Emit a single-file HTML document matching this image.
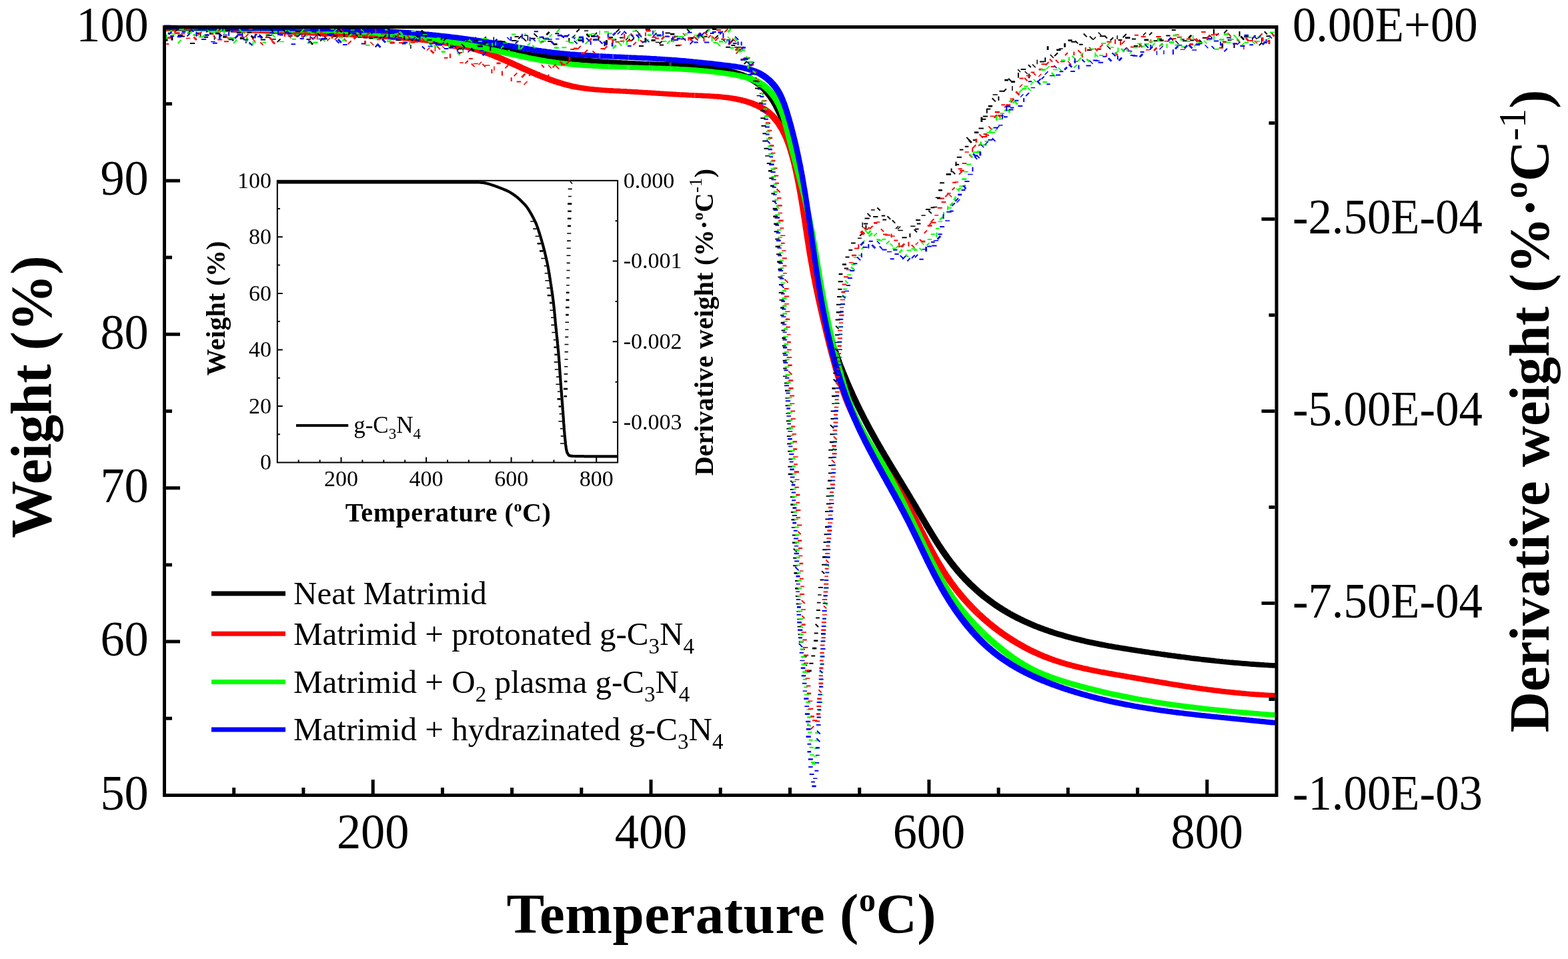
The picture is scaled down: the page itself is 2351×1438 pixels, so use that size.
<!DOCTYPE html>
<html><head><meta charset="utf-8"><style>html,body{margin:0;padding:0;background:#fff;overflow:hidden}svg{display:block}</style></head><body>
<svg width="2351" height="1438" viewBox="0 0 2351 1438">
<rect width="2351" height="1438" fill="#fff"/>
<defs><filter id="sqpen" x="0" y="0" width="2351" height="1438" filterUnits="userSpaceOnUse"><feMorphology operator="dilate" radius="2.65"/></filter></defs>
<path d="M249.0 41.8 L251.5 41.9 L254.0 41.9 L256.5 42.0 L259.0 42.0 L261.5 42.1 L264.0 42.1 L266.5 42.2 L269.0 42.2 L271.5 42.3 L274.0 42.3 L276.5 42.3 L279.0 42.4 L281.5 42.4 L284.0 42.4 L286.5 42.5 L289.0 42.5 L291.5 42.5 L294.0 42.5 L296.5 42.6 L299.0 42.6 L301.6 42.6 L304.1 42.6 L306.6 42.7 L309.1 42.7 L311.6 42.7 L314.1 42.7 L316.6 42.7 L319.1 42.7 L321.6 42.8 L324.1 42.8 L326.6 42.8 L329.1 42.8 L331.6 42.8 L334.1 42.8 L336.6 42.8 L339.1 42.8 L341.6 42.8 L344.1 42.8 L346.6 42.9 L349.1 42.9 L351.6 42.9 L354.1 42.9 L356.7 42.9 L359.2 42.9 L361.7 42.9 L364.2 42.9 L366.7 42.9 L369.2 42.9 L371.7 42.9 L374.2 42.9 L376.7 42.9 L379.2 42.9 L381.7 42.9 L384.2 43.0 L386.7 43.0 L389.2 43.0 L391.7 43.0 L394.3 43.0 L396.8 43.0 L399.3 43.0 L401.8 43.0 L404.3 43.0 L406.8 43.0 L409.3 43.1 L411.8 43.1 L414.3 43.1 L416.8 43.1 L419.3 43.1 L421.8 43.1 L424.3 43.1 L426.8 43.2 L429.3 43.2 L431.9 43.2 L434.4 43.2 L436.9 43.3 L439.4 43.3 L441.9 43.3 L444.4 43.3 L446.9 43.4 L449.4 43.4 L451.9 43.4 L454.4 43.5 L456.9 43.5 L459.4 43.5 L461.9 43.6 L464.4 43.6 L466.9 43.7 L469.5 43.7 L472.0 43.7 L474.5 43.8 L477.0 43.8 L479.5 43.9 L482.0 43.9 L484.5 44.0 L487.0 44.1 L489.5 44.1 L492.0 44.2 L494.5 44.2 L497.0 44.3 L499.5 44.4 L502.0 44.5 L504.5 44.5 L507.0 44.6 L509.5 44.7 L512.0 44.8 L514.5 44.9 L517.0 44.9 L519.5 45.0 L522.0 45.1 L524.5 45.2 L527.0 45.3 L529.6 45.4 L532.1 45.5 L534.6 45.6 L537.1 45.7 L539.6 45.9 L542.1 46.0 L544.6 46.1 L547.1 46.2 L549.6 46.4 L552.1 46.5 L554.6 46.6 L557.1 46.8 L559.6 46.9 L562.1 47.0 L564.6 47.2 L567.1 47.3 L569.6 47.5 L572.1 47.7 L574.6 47.8 L577.0 48.0 L579.5 48.2 L582.0 48.3 L584.5 48.5 L587.0 48.7 L589.5 48.9 L592.0 49.1 L594.5 49.3 L597.0 49.5 L599.5 49.7 L602.0 49.9 L604.5 50.1 L607.0 50.3 L609.5 50.5 L612.0 50.7 L614.5 51.0 L617.0 51.2 L619.5 51.4 L622.0 51.7 L624.4 51.9 L626.9 52.2 L629.4 52.4 L631.9 52.7 L634.4 53.0 L636.9 53.2 L639.4 53.5 L641.9 53.8 L644.4 54.1 L646.9 54.4 L649.3 54.7 L651.8 55.0 L654.3 55.3 L656.8 55.6 L659.3 55.9 L661.8 56.2 L664.3 56.6 L666.7 56.9 L669.2 57.3 L671.7 57.6 L674.2 58.0 L676.7 58.3 L679.1 58.7 L681.6 59.1 L684.1 59.5 L686.5 59.9 L689.0 60.3 L691.5 60.7 L694.0 61.1 L696.4 61.6 L698.9 62.0 L701.3 62.4 L703.8 62.9 L706.3 63.4 L708.7 63.8 L711.2 64.3 L713.6 64.8 L716.1 65.3 L718.5 65.9 L721.0 66.4 L723.4 66.9 L725.9 67.5 L728.3 68.0 L730.7 68.6 L733.2 69.2 L735.6 69.7 L738.0 70.3 L740.5 70.9 L742.9 71.5 L745.3 72.1 L747.8 72.7 L750.2 73.3 L752.6 73.9 L755.0 74.5 L757.5 75.1 L759.9 75.6 L762.3 76.2 L764.8 76.7 L767.2 77.3 L769.7 77.8 L772.1 78.3 L774.6 78.8 L777.0 79.2 L779.5 79.7 L782.0 80.1 L784.4 80.5 L786.9 80.9 L789.4 81.3 L791.8 81.6 L794.3 82.0 L796.8 82.3 L799.3 82.7 L801.8 83.0 L804.3 83.3 L806.7 83.6 L809.2 83.9 L811.7 84.2 L814.2 84.5 L816.7 84.7 L819.2 85.0 L821.7 85.3 L824.2 85.6 L826.7 85.8 L829.1 86.1 L831.6 86.3 L834.1 86.6 L836.6 86.8 L839.1 87.1 L841.6 87.3 L844.1 87.6 L846.6 87.8 L849.0 88.1 L851.5 88.3 L854.0 88.5 L856.5 88.7 L859.0 89.0 L861.5 89.2 L864.0 89.4 L866.5 89.6 L868.9 89.8 L871.4 90.0 L873.9 90.2 L876.4 90.4 L878.9 90.6 L881.4 90.8 L883.9 91.0 L886.4 91.2 L888.9 91.4 L891.4 91.6 L893.8 91.7 L896.3 91.9 L898.8 92.1 L901.3 92.3 L903.8 92.4 L906.3 92.6 L908.8 92.8 L911.3 92.9 L913.8 93.1 L916.3 93.2 L918.8 93.4 L921.3 93.5 L923.8 93.7 L926.3 93.8 L928.8 93.9 L931.3 94.1 L933.8 94.2 L936.3 94.3 L938.8 94.5 L941.3 94.6 L943.8 94.7 L946.3 94.8 L948.8 94.9 L951.3 95.1 L953.8 95.2 L956.3 95.3 L958.8 95.4 L961.3 95.5 L963.8 95.6 L966.3 95.7 L968.8 95.8 L971.3 95.9 L973.8 96.0 L976.3 96.1 L978.8 96.2 L981.3 96.2 L983.9 96.3 L986.4 96.4 L988.9 96.5 L991.4 96.6 L993.9 96.6 L996.4 96.7 L998.9 96.8 L1001.5 96.9 L1004.0 96.9 L1006.5 97.0 L1009.0 97.1 L1011.5 97.2 L1014.0 97.3 L1016.6 97.4 L1019.1 97.5 L1021.6 97.6 L1024.1 97.7 L1026.6 97.8 L1029.1 98.0 L1031.7 98.1 L1034.2 98.3 L1036.7 98.4 L1039.2 98.6 L1041.7 98.8 L1044.2 99.0 L1046.7 99.2 L1049.2 99.5 L1051.7 99.7 L1054.3 100.0 L1056.8 100.2 L1059.3 100.5 L1061.8 100.9 L1064.3 101.2 L1066.8 101.5 L1069.3 101.9 L1071.8 102.3 L1074.3 102.7 L1076.7 103.1 L1079.2 103.6 L1081.7 104.1 L1084.2 104.6 L1086.7 105.1 L1089.2 105.7 L1091.6 106.3 L1094.1 106.9 L1096.6 107.5 L1099.1 108.2 L1101.5 108.9 L1104.0 109.6 L1106.4 110.4 L1108.8 111.2 L1111.2 112.0 L1113.6 112.9 L1115.9 113.8 L1118.2 114.8 L1120.5 115.8 L1122.7 116.9 L1125.0 118.0 L1127.1 119.1 L1129.3 120.4 L1131.3 121.6 L1133.4 123.0 L1135.4 124.3 L1137.3 125.8 L1139.2 127.3 L1141.0 128.8 L1142.8 130.4 L1144.5 132.1 L1146.2 133.8 L1147.8 135.6 L1149.4 137.4 L1150.9 139.3 L1152.4 141.2 L1153.9 143.1 L1155.3 145.1 L1156.6 147.1 L1158.0 149.2 L1159.3 151.2 L1160.6 153.4 L1161.8 155.5 L1163.0 157.7 L1164.1 159.9 L1165.3 162.1 L1166.4 164.4 L1167.5 166.7 L1168.5 169.0 L1169.5 171.3 L1170.5 173.6 L1171.5 175.9 L1172.5 178.3 L1173.4 180.7 L1174.3 183.0 L1175.2 185.4 L1176.1 187.8 L1177.0 190.2 L1177.9 192.6 L1178.7 195.0 L1179.5 197.4 L1180.3 199.7 L1181.1 202.1 L1181.9 204.5 L1182.7 207.0 L1183.4 209.4 L1184.2 211.8 L1184.9 214.2 L1185.6 216.6 L1186.3 219.0 L1187.0 221.4 L1187.7 223.9 L1188.4 226.3 L1189.0 228.7 L1189.7 231.1 L1190.3 233.6 L1191.0 236.0 L1191.6 238.4 L1192.2 240.9 L1192.8 243.3 L1193.3 245.8 L1193.9 248.2 L1194.5 250.6 L1195.0 253.1 L1195.6 255.5 L1196.1 258.0 L1196.6 260.4 L1197.2 262.9 L1197.7 265.3 L1198.2 267.8 L1198.7 270.3 L1199.2 272.7 L1199.6 275.2 L1200.1 277.6 L1200.6 280.1 L1201.1 282.6 L1201.5 285.0 L1202.0 287.5 L1202.4 290.0 L1202.8 292.4 L1203.3 294.9 L1203.7 297.4 L1204.1 299.8 L1204.5 302.3 L1205.0 304.8 L1205.4 307.3 L1205.8 309.7 L1206.2 312.2 L1206.6 314.7 L1207.0 317.2 L1207.4 319.6 L1207.7 322.1 L1208.1 324.6 L1208.5 327.1 L1208.9 329.5 L1209.3 332.0 L1209.6 334.5 L1210.0 337.0 L1210.4 339.5 L1210.8 341.9 L1211.2 344.4 L1211.5 346.9 L1211.9 349.4 L1212.3 351.9 L1212.6 354.3 L1213.0 356.8 L1213.4 359.3 L1213.8 361.8 L1214.1 364.2 L1214.5 366.7 L1214.9 369.2 L1215.3 371.7 L1215.7 374.1 L1216.1 376.6 L1216.4 379.1 L1216.8 381.6 L1217.2 384.0 L1217.6 386.5 L1218.0 389.0 L1218.4 391.5 L1218.8 393.9 L1219.3 396.4 L1219.7 398.9 L1220.1 401.3 L1220.5 403.8 L1221.0 406.3 L1221.4 408.7 L1221.8 411.2 L1222.3 413.6 L1222.7 416.1 L1223.2 418.6 L1223.7 421.0 L1224.1 423.5 L1224.6 425.9 L1225.1 428.4 L1225.6 430.8 L1226.1 433.3 L1226.6 435.7 L1227.1 438.2 L1227.7 440.6 L1228.2 443.1 L1228.8 445.5 L1229.3 447.9 L1229.9 450.4 L1230.4 452.8 L1231.0 455.2 L1231.6 457.7 L1232.2 460.1 L1232.8 462.5 L1233.4 464.9 L1234.1 467.4 L1234.7 469.8 L1235.3 472.2 L1236.0 474.6 L1236.6 477.0 L1237.3 479.4 L1238.0 481.8 L1238.7 484.3 L1239.3 486.7 L1240.0 489.1 L1240.8 491.5 L1241.5 493.9 L1242.2 496.3 L1242.9 498.6 L1243.7 501.0 L1244.4 503.4 L1245.2 505.8 L1245.9 508.2 L1246.7 510.6 L1247.5 513.0 L1248.3 515.3 L1249.1 517.7 L1249.9 520.1 L1250.7 522.4 L1251.5 524.8 L1252.3 527.2 L1253.2 529.5 L1254.0 531.9 L1254.9 534.2 L1255.7 536.6 L1256.6 538.9 L1257.5 541.3 L1258.4 543.6 L1259.2 546.0 L1260.1 548.3 L1261.0 550.7 L1262.0 553.0 L1262.9 555.3 L1263.8 557.6 L1264.7 560.0 L1265.7 562.3 L1266.6 564.6 L1267.6 566.9 L1268.6 569.2 L1269.5 571.5 L1270.5 573.9 L1271.5 576.2 L1272.5 578.5 L1273.5 580.8 L1274.5 583.0 L1275.5 585.3 L1276.5 587.6 L1277.6 589.9 L1278.6 592.2 L1279.6 594.5 L1280.7 596.8 L1281.7 599.0 L1282.8 601.3 L1283.9 603.6 L1284.9 605.8 L1286.0 608.1 L1287.1 610.3 L1288.2 612.6 L1289.3 614.8 L1290.4 617.1 L1291.6 619.3 L1292.7 621.6 L1293.8 623.8 L1294.9 626.0 L1296.1 628.3 L1297.2 630.5 L1298.4 632.7 L1299.6 634.9 L1300.7 637.1 L1301.9 639.4 L1303.1 641.6 L1304.3 643.8 L1305.5 646.0 L1306.7 648.2 L1307.9 650.4 L1309.1 652.5 L1310.3 654.7 L1311.5 656.9 L1312.7 659.1 L1314.0 661.3 L1315.2 663.5 L1316.5 665.6 L1317.7 667.8 L1319.0 670.0 L1320.2 672.1 L1321.5 674.3 L1322.7 676.5 L1324.0 678.6 L1325.3 680.8 L1326.5 683.0 L1327.8 685.1 L1329.1 687.3 L1330.4 689.4 L1331.6 691.6 L1332.9 693.7 L1334.2 695.9 L1335.5 698.0 L1336.8 700.2 L1338.1 702.3 L1339.4 704.5 L1340.7 706.6 L1342.0 708.7 L1343.3 710.9 L1344.6 713.0 L1345.9 715.2 L1347.2 717.3 L1348.5 719.5 L1349.8 721.6 L1351.1 723.7 L1352.4 725.9 L1353.7 728.0 L1355.0 730.2 L1356.3 732.3 L1357.6 734.5 L1358.9 736.6 L1360.2 738.7 L1361.5 740.9 L1362.8 743.0 L1364.1 745.2 L1365.3 747.3 L1366.6 749.5 L1367.9 751.6 L1369.2 753.8 L1370.5 755.9 L1371.8 758.1 L1373.1 760.2 L1374.3 762.4 L1375.6 764.6 L1376.9 766.7 L1378.2 768.9 L1379.4 771.0 L1380.7 773.2 L1382.0 775.4 L1383.2 777.5 L1384.5 779.7 L1385.8 781.8 L1387.1 784.0 L1388.3 786.2 L1389.6 788.3 L1390.9 790.5 L1392.2 792.6 L1393.5 794.8 L1394.8 796.9 L1396.1 799.0 L1397.4 801.2 L1398.7 803.3 L1400.0 805.4 L1401.3 807.6 L1402.6 809.7 L1404.0 811.8 L1405.3 813.9 L1406.7 816.0 L1408.0 818.1 L1409.4 820.2 L1410.8 822.2 L1412.2 824.3 L1413.6 826.4 L1415.0 828.4 L1416.4 830.5 L1417.9 832.5 L1419.3 834.5 L1420.8 836.6 L1422.3 838.6 L1423.8 840.6 L1425.3 842.6 L1426.8 844.6 L1428.3 846.5 L1429.9 848.5 L1431.4 850.4 L1433.0 852.4 L1434.6 854.3 L1436.2 856.2 L1437.9 858.1 L1439.5 860.0 L1441.2 861.9 L1442.9 863.7 L1444.6 865.6 L1446.3 867.4 L1448.0 869.2 L1449.8 871.0 L1451.5 872.8 L1453.3 874.6 L1455.1 876.4 L1456.9 878.1 L1458.8 879.8 L1460.6 881.6 L1462.5 883.3 L1464.4 884.9 L1466.2 886.6 L1468.1 888.3 L1470.1 889.9 L1472.0 891.5 L1473.9 893.1 L1475.9 894.7 L1477.9 896.3 L1479.9 897.8 L1481.9 899.3 L1483.9 900.8 L1485.9 902.3 L1487.9 903.8 L1490.0 905.3 L1492.0 906.7 L1494.1 908.1 L1496.2 909.5 L1498.3 910.9 L1500.4 912.2 L1502.5 913.6 L1504.6 914.9 L1506.8 916.2 L1508.9 917.5 L1511.1 918.7 L1513.2 920.0 L1515.4 921.2 L1517.6 922.4 L1519.8 923.6 L1522.0 924.7 L1524.2 925.9 L1526.4 927.0 L1528.7 928.1 L1530.9 929.2 L1533.2 930.3 L1535.4 931.4 L1537.7 932.4 L1539.9 933.4 L1542.2 934.4 L1544.5 935.4 L1546.8 936.4 L1549.1 937.4 L1551.4 938.3 L1553.7 939.3 L1556.1 940.2 L1558.4 941.1 L1560.7 942.0 L1563.1 942.8 L1565.4 943.7 L1567.8 944.5 L1570.1 945.4 L1572.5 946.2 L1574.9 947.0 L1577.2 947.8 L1579.6 948.6 L1582.0 949.3 L1584.4 950.1 L1586.8 950.8 L1589.2 951.5 L1591.6 952.2 L1594.0 952.9 L1596.4 953.6 L1598.8 954.3 L1601.2 955.0 L1603.6 955.6 L1606.0 956.3 L1608.5 956.9 L1610.9 957.5 L1613.3 958.1 L1615.8 958.7 L1618.2 959.3 L1620.6 959.9 L1623.1 960.5 L1625.5 961.1 L1627.9 961.6 L1630.4 962.2 L1632.8 962.7 L1635.3 963.2 L1637.7 963.7 L1640.2 964.3 L1642.7 964.8 L1645.1 965.3 L1647.6 965.7 L1650.0 966.2 L1652.5 966.7 L1655.0 967.2 L1657.4 967.6 L1659.9 968.1 L1662.4 968.5 L1664.8 969.0 L1667.3 969.4 L1669.8 969.9 L1672.3 970.3 L1674.7 970.7 L1677.2 971.1 L1679.7 971.5 L1682.2 971.9 L1684.6 972.3 L1687.1 972.7 L1689.6 973.1 L1692.1 973.5 L1694.5 973.9 L1697.0 974.3 L1699.5 974.7 L1702.0 975.1 L1704.5 975.5 L1706.9 975.8 L1709.4 976.2 L1711.9 976.6 L1714.4 977.0 L1716.9 977.3 L1719.3 977.7 L1721.8 978.1 L1724.3 978.4 L1726.8 978.8 L1729.3 979.2 L1731.7 979.5 L1734.2 979.9 L1736.7 980.2 L1739.2 980.6 L1741.7 980.9 L1744.1 981.3 L1746.6 981.6 L1749.1 982.0 L1751.6 982.3 L1754.0 982.7 L1756.5 983.0 L1759.0 983.3 L1761.5 983.7 L1764.0 984.0 L1766.4 984.3 L1768.9 984.7 L1771.4 985.0 L1773.9 985.3 L1776.4 985.6 L1778.8 985.9 L1781.3 986.2 L1783.8 986.6 L1786.3 986.9 L1788.8 987.2 L1791.2 987.5 L1793.7 987.8 L1796.2 988.1 L1798.7 988.4 L1801.2 988.6 L1803.7 988.9 L1806.1 989.2 L1808.6 989.5 L1811.1 989.8 L1813.6 990.1 L1816.1 990.3 L1818.6 990.6 L1821.1 990.9 L1823.5 991.1 L1826.0 991.4 L1828.5 991.6 L1831.0 991.9 L1833.5 992.1 L1836.0 992.4 L1838.5 992.6 L1841.0 992.9 L1843.5 993.1 L1846.0 993.3 L1848.4 993.6 L1850.9 993.8 L1853.4 994.0 L1855.9 994.2 L1858.4 994.4 L1860.9 994.6 L1863.4 994.8 L1865.9 995.0 L1868.4 995.2 L1870.9 995.4 L1873.4 995.6 L1875.9 995.8 L1878.4 996.0 L1880.9 996.2 L1883.4 996.3 L1885.9 996.5 L1888.4 996.7 L1890.9 996.8 L1893.4 997.0 L1896.0 997.1 L1898.5 997.3 L1901.0 997.4 L1903.5 997.6 L1906.0 997.7 L1908.5 997.8 L1911.0 998.0" stroke="#000000" stroke-width="1.4" fill="none" stroke-linejoin="round" filter="url(#sqpen)"/>
<path d="M249.0 43.2 L251.5 43.2 L254.0 43.2 L256.5 43.2 L259.0 43.1 L261.5 43.1 L264.0 43.1 L266.5 43.1 L269.0 43.1 L271.5 43.1 L274.0 43.1 L276.5 43.1 L279.0 43.1 L281.5 43.2 L284.0 43.2 L286.6 43.2 L289.1 43.2 L291.6 43.2 L294.1 43.3 L296.6 43.3 L299.1 43.3 L301.6 43.4 L304.1 43.4 L306.6 43.5 L309.1 43.5 L311.6 43.6 L314.1 43.6 L316.6 43.7 L319.1 43.7 L321.6 43.8 L324.1 43.8 L326.6 43.9 L329.1 44.0 L331.6 44.0 L334.1 44.1 L336.6 44.2 L339.1 44.2 L341.6 44.3 L344.1 44.4 L346.6 44.5 L349.1 44.6 L351.6 44.6 L354.1 44.7 L356.6 44.8 L359.1 44.9 L361.6 45.0 L364.1 45.1 L366.6 45.2 L369.1 45.3 L371.6 45.4 L374.1 45.5 L376.6 45.6 L379.1 45.7 L381.6 45.8 L384.1 45.9 L386.6 46.0 L389.1 46.1 L391.6 46.2 L394.1 46.3 L396.6 46.4 L399.1 46.5 L401.6 46.6 L404.1 46.7 L406.6 46.8 L409.1 46.9 L411.6 47.1 L414.1 47.2 L416.6 47.3 L419.1 47.4 L421.6 47.5 L424.1 47.6 L426.6 47.7 L429.1 47.9 L431.6 48.0 L434.1 48.1 L436.6 48.2 L439.1 48.3 L441.6 48.4 L444.1 48.6 L446.6 48.7 L449.1 48.8 L451.6 48.9 L454.1 49.0 L456.6 49.1 L459.1 49.3 L461.6 49.4 L464.1 49.5 L466.6 49.6 L469.1 49.7 L471.6 49.8 L474.1 49.9 L476.6 50.1 L479.1 50.2 L481.6 50.3 L484.1 50.4 L486.6 50.5 L489.1 50.6 L491.6 50.7 L494.1 50.8 L496.6 50.9 L499.1 51.1 L501.6 51.2 L504.1 51.3 L506.6 51.4 L509.1 51.5 L511.6 51.6 L514.1 51.7 L516.6 51.8 L519.1 52.0 L521.6 52.1 L524.1 52.2 L526.6 52.3 L529.1 52.4 L531.6 52.5 L534.1 52.7 L536.6 52.8 L539.1 52.9 L541.6 53.0 L544.1 53.2 L546.6 53.3 L549.1 53.4 L551.6 53.6 L554.1 53.7 L556.6 53.9 L559.1 54.0 L561.6 54.1 L564.1 54.3 L566.6 54.5 L569.1 54.6 L571.6 54.8 L574.1 54.9 L576.6 55.1 L579.1 55.3 L581.6 55.4 L584.1 55.6 L586.6 55.8 L589.1 56.0 L591.6 56.2 L594.1 56.3 L596.6 56.5 L599.1 56.7 L601.6 56.9 L604.1 57.2 L606.6 57.4 L609.1 57.6 L611.6 57.8 L614.0 58.0 L616.5 58.3 L619.0 58.5 L621.5 58.8 L624.0 59.0 L626.5 59.3 L629.0 59.5 L631.5 59.8 L634.0 60.1 L636.5 60.3 L639.0 60.6 L641.5 60.9 L644.0 61.2 L646.4 61.5 L648.9 61.8 L651.4 62.1 L653.9 62.5 L656.4 62.8 L658.9 63.1 L661.4 63.5 L663.9 63.9 L666.3 64.2 L668.8 64.6 L671.3 65.0 L673.8 65.4 L676.2 65.8 L678.7 66.3 L681.1 66.7 L683.6 67.2 L686.1 67.7 L688.5 68.2 L691.0 68.7 L693.4 69.2 L695.8 69.7 L698.3 70.3 L700.7 70.9 L703.1 71.4 L705.5 72.1 L708.0 72.7 L710.4 73.3 L712.8 74.0 L715.2 74.7 L717.6 75.4 L719.9 76.1 L722.3 76.9 L724.7 77.6 L727.0 78.4 L729.4 79.2 L731.8 80.1 L734.1 80.9 L736.4 81.8 L738.8 82.7 L741.1 83.6 L743.4 84.5 L745.7 85.5 L748.0 86.4 L750.3 87.4 L752.6 88.4 L754.9 89.4 L757.2 90.4 L759.5 91.4 L761.8 92.4 L764.1 93.5 L766.4 94.5 L768.7 95.5 L771.0 96.6 L773.3 97.6 L775.6 98.7 L777.8 99.7 L780.1 100.7 L782.4 101.8 L784.7 102.8 L787.0 103.8 L789.3 104.9 L791.6 105.9 L793.9 106.9 L796.2 107.9 L798.5 108.9 L800.8 109.9 L803.1 110.9 L805.5 111.8 L807.8 112.8 L810.1 113.8 L812.4 114.7 L814.8 115.6 L817.1 116.5 L819.4 117.4 L821.8 118.3 L824.1 119.2 L826.5 120.0 L828.8 120.9 L831.2 121.7 L833.5 122.5 L835.9 123.2 L838.3 124.0 L840.7 124.7 L843.1 125.4 L845.5 126.1 L847.9 126.8 L850.3 127.4 L852.7 128.0 L855.1 128.6 L857.5 129.2 L860.0 129.7 L862.4 130.2 L864.9 130.7 L867.3 131.1 L869.8 131.5 L872.3 131.9 L874.7 132.3 L877.2 132.6 L879.7 133.0 L882.2 133.3 L884.7 133.5 L887.2 133.8 L889.7 134.1 L892.2 134.3 L894.7 134.5 L897.2 134.7 L899.8 134.9 L902.3 135.1 L904.8 135.2 L907.3 135.4 L909.8 135.6 L912.3 135.7 L914.9 135.8 L917.4 136.0 L919.9 136.1 L922.4 136.2 L924.9 136.3 L927.4 136.5 L929.9 136.6 L932.4 136.7 L934.9 136.8 L937.4 137.0 L939.9 137.1 L942.4 137.2 L944.9 137.4 L947.4 137.5 L949.9 137.7 L952.3 137.8 L954.8 138.0 L957.3 138.1 L959.8 138.3 L962.2 138.4 L964.7 138.6 L967.2 138.7 L969.6 138.9 L972.1 139.0 L974.5 139.2 L977.0 139.3 L979.5 139.5 L981.9 139.7 L984.4 139.8 L986.9 140.0 L989.3 140.1 L991.8 140.3 L994.3 140.4 L996.7 140.6 L999.2 140.7 L1001.7 140.9 L1004.2 141.0 L1006.6 141.2 L1009.1 141.3 L1011.6 141.5 L1014.1 141.6 L1016.6 141.8 L1019.1 141.9 L1021.6 142.0 L1024.1 142.2 L1026.6 142.3 L1029.1 142.4 L1031.6 142.6 L1034.1 142.7 L1036.6 142.8 L1039.2 142.9 L1041.7 143.0 L1044.2 143.1 L1046.8 143.2 L1049.3 143.3 L1051.9 143.4 L1054.4 143.6 L1057.0 143.7 L1059.5 143.8 L1062.1 143.9 L1064.7 144.1 L1067.2 144.2 L1069.8 144.4 L1072.3 144.5 L1074.9 144.7 L1077.4 144.9 L1080.0 145.2 L1082.5 145.4 L1085.0 145.7 L1087.6 146.0 L1090.1 146.3 L1092.6 146.6 L1095.1 147.0 L1097.6 147.4 L1100.1 147.8 L1102.6 148.2 L1105.1 148.7 L1107.6 149.2 L1110.0 149.8 L1112.5 150.4 L1114.9 151.0 L1117.3 151.7 L1119.8 152.4 L1122.2 153.1 L1124.5 153.9 L1126.9 154.7 L1129.2 155.6 L1131.6 156.6 L1133.8 157.5 L1136.1 158.6 L1138.3 159.7 L1140.5 160.8 L1142.6 162.0 L1144.7 163.2 L1146.7 164.5 L1148.7 165.9 L1150.6 167.3 L1152.5 168.8 L1154.3 170.3 L1156.1 171.9 L1157.8 173.6 L1159.4 175.3 L1161.0 177.0 L1162.5 178.9 L1164.0 180.7 L1165.5 182.6 L1166.9 184.5 L1168.2 186.5 L1169.5 188.6 L1170.8 190.6 L1172.0 192.7 L1173.2 194.9 L1174.3 197.1 L1175.4 199.3 L1176.4 201.5 L1177.5 203.8 L1178.5 206.1 L1179.4 208.4 L1180.3 210.8 L1181.2 213.1 L1182.1 215.5 L1182.9 217.9 L1183.7 220.4 L1184.5 222.8 L1185.3 225.3 L1186.0 227.7 L1186.7 230.2 L1187.4 232.7 L1188.1 235.2 L1188.7 237.7 L1189.3 240.2 L1190.0 242.8 L1190.6 245.3 L1191.2 247.8 L1191.7 250.3 L1192.3 252.8 L1192.9 255.3 L1193.4 257.8 L1193.9 260.3 L1194.5 262.8 L1195.0 265.3 L1195.5 267.8 L1196.0 270.3 L1196.5 272.8 L1197.0 275.3 L1197.4 277.8 L1197.9 280.2 L1198.4 282.7 L1198.8 285.2 L1199.3 287.7 L1199.7 290.1 L1200.1 292.6 L1200.5 295.1 L1201.0 297.6 L1201.4 300.0 L1201.8 302.5 L1202.2 305.0 L1202.6 307.4 L1203.0 309.9 L1203.4 312.3 L1203.8 314.8 L1204.1 317.3 L1204.5 319.7 L1204.9 322.2 L1205.3 324.6 L1205.7 327.1 L1206.0 329.5 L1206.4 332.0 L1206.8 334.4 L1207.1 336.9 L1207.5 339.3 L1207.9 341.8 L1208.3 344.2 L1208.6 346.7 L1209.0 349.1 L1209.4 351.6 L1209.7 354.0 L1210.1 356.5 L1210.5 358.9 L1210.9 361.4 L1211.3 363.8 L1211.6 366.3 L1212.0 368.7 L1212.4 371.2 L1212.8 373.6 L1213.2 376.1 L1213.6 378.5 L1214.0 380.9 L1214.5 383.4 L1214.9 385.8 L1215.3 388.3 L1215.7 390.7 L1216.2 393.2 L1216.6 395.6 L1217.1 398.1 L1217.5 400.5 L1218.0 403.0 L1218.4 405.4 L1218.9 407.9 L1219.3 410.3 L1219.8 412.8 L1220.3 415.2 L1220.8 417.7 L1221.2 420.1 L1221.7 422.6 L1222.2 425.0 L1222.7 427.5 L1223.2 429.9 L1223.7 432.4 L1224.2 434.8 L1224.8 437.3 L1225.3 439.7 L1225.8 442.2 L1226.3 444.6 L1226.8 447.1 L1227.4 449.5 L1227.9 452.0 L1228.4 454.4 L1229.0 456.9 L1229.5 459.3 L1230.1 461.8 L1230.6 464.2 L1231.2 466.7 L1231.8 469.1 L1232.3 471.6 L1232.9 474.0 L1233.5 476.4 L1234.0 478.9 L1234.6 481.3 L1235.2 483.8 L1235.8 486.2 L1236.4 488.7 L1237.0 491.1 L1237.6 493.6 L1238.2 496.0 L1238.8 498.4 L1239.4 500.9 L1240.0 503.3 L1240.6 505.8 L1241.2 508.2 L1241.8 510.7 L1242.4 513.1 L1243.1 515.5 L1243.7 518.0 L1244.3 520.4 L1244.9 522.8 L1245.6 525.3 L1246.2 527.7 L1246.9 530.2 L1247.5 532.6 L1248.2 535.0 L1248.8 537.4 L1249.5 539.9 L1250.2 542.3 L1250.8 544.7 L1251.5 547.1 L1252.2 549.5 L1252.9 552.0 L1253.6 554.4 L1254.3 556.8 L1255.0 559.2 L1255.8 561.6 L1256.5 564.0 L1257.3 566.4 L1258.0 568.7 L1258.8 571.1 L1259.6 573.5 L1260.4 575.9 L1261.2 578.2 L1262.0 580.6 L1262.8 583.0 L1263.6 585.3 L1264.5 587.7 L1265.3 590.0 L1266.2 592.3 L1267.1 594.7 L1268.0 597.0 L1268.9 599.3 L1269.8 601.6 L1270.8 603.9 L1271.7 606.2 L1272.7 608.5 L1273.7 610.8 L1274.7 613.0 L1275.7 615.3 L1276.8 617.5 L1277.8 619.8 L1278.9 622.0 L1280.0 624.3 L1281.1 626.5 L1282.2 628.7 L1283.3 630.9 L1284.5 633.1 L1285.6 635.3 L1286.8 637.5 L1288.0 639.7 L1289.2 641.8 L1290.4 644.0 L1291.6 646.2 L1292.9 648.3 L1294.1 650.5 L1295.4 652.6 L1296.6 654.8 L1297.9 656.9 L1299.2 659.0 L1300.5 661.2 L1301.8 663.3 L1303.1 665.4 L1304.4 667.5 L1305.7 669.6 L1307.1 671.7 L1308.4 673.9 L1309.7 676.0 L1311.1 678.1 L1312.4 680.2 L1313.8 682.3 L1315.2 684.4 L1316.5 686.5 L1317.9 688.6 L1319.3 690.7 L1320.6 692.8 L1322.0 694.9 L1323.4 697.0 L1324.8 699.1 L1326.2 701.2 L1327.5 703.3 L1328.9 705.3 L1330.3 707.4 L1331.7 709.6 L1333.0 711.7 L1334.4 713.8 L1335.8 715.9 L1337.1 718.0 L1338.5 720.1 L1339.8 722.2 L1341.2 724.3 L1342.5 726.4 L1343.9 728.6 L1345.2 730.7 L1346.6 732.8 L1347.9 735.0 L1349.2 737.1 L1350.5 739.2 L1351.8 741.4 L1353.1 743.6 L1354.4 745.7 L1355.7 747.9 L1356.9 750.1 L1358.2 752.2 L1359.4 754.4 L1360.7 756.6 L1361.9 758.8 L1363.1 761.0 L1364.3 763.2 L1365.5 765.4 L1366.7 767.6 L1367.9 769.8 L1369.1 772.1 L1370.2 774.3 L1371.4 776.5 L1372.6 778.8 L1373.7 781.0 L1374.9 783.2 L1376.0 785.5 L1377.2 787.7 L1378.3 789.9 L1379.5 792.2 L1380.6 794.4 L1381.8 796.7 L1382.9 798.9 L1384.1 801.1 L1385.2 803.4 L1386.3 805.6 L1387.5 807.8 L1388.6 810.1 L1389.8 812.3 L1391.0 814.5 L1392.1 816.8 L1393.3 819.0 L1394.5 821.2 L1395.6 823.4 L1396.8 825.6 L1398.0 827.8 L1399.2 830.0 L1400.4 832.2 L1401.6 834.4 L1402.8 836.6 L1404.1 838.8 L1405.3 841.0 L1406.5 843.1 L1407.8 845.3 L1409.1 847.4 L1410.4 849.6 L1411.7 851.7 L1413.0 853.9 L1414.3 856.0 L1415.6 858.1 L1417.0 860.2 L1418.3 862.3 L1419.7 864.4 L1421.1 866.4 L1422.5 868.5 L1423.9 870.5 L1425.4 872.6 L1426.8 874.6 L1428.3 876.6 L1429.8 878.6 L1431.3 880.6 L1432.8 882.6 L1434.3 884.6 L1435.9 886.5 L1437.5 888.5 L1439.0 890.4 L1440.6 892.3 L1442.2 894.3 L1443.9 896.2 L1445.5 898.0 L1447.1 899.9 L1448.8 901.8 L1450.5 903.6 L1452.2 905.5 L1453.9 907.3 L1455.6 909.1 L1457.4 910.9 L1459.1 912.7 L1460.9 914.5 L1462.6 916.2 L1464.4 918.0 L1466.2 919.7 L1468.0 921.4 L1469.9 923.1 L1471.7 924.8 L1473.6 926.5 L1475.4 928.2 L1477.3 929.8 L1479.2 931.4 L1481.1 933.0 L1483.0 934.7 L1485.0 936.2 L1486.9 937.8 L1488.8 939.4 L1490.8 940.9 L1492.8 942.4 L1494.8 944.0 L1496.8 945.5 L1498.8 946.9 L1500.8 948.4 L1502.8 949.9 L1504.9 951.3 L1506.9 952.7 L1509.0 954.1 L1511.1 955.5 L1513.2 956.9 L1515.3 958.2 L1517.4 959.6 L1519.5 960.9 L1521.6 962.2 L1523.7 963.5 L1525.9 964.7 L1528.1 966.0 L1530.2 967.2 L1532.4 968.4 L1534.6 969.6 L1536.8 970.8 L1539.0 972.0 L1541.2 973.1 L1543.4 974.3 L1545.7 975.4 L1547.9 976.5 L1550.1 977.5 L1552.4 978.6 L1554.7 979.6 L1556.9 980.6 L1559.2 981.6 L1561.5 982.6 L1563.8 983.6 L1566.1 984.5 L1568.5 985.5 L1570.8 986.4 L1573.1 987.2 L1575.4 988.1 L1577.8 988.9 L1580.2 989.8 L1582.5 990.6 L1584.9 991.4 L1587.3 992.1 L1589.6 992.9 L1592.0 993.6 L1594.4 994.4 L1596.8 995.1 L1599.2 995.8 L1601.6 996.4 L1604.0 997.1 L1606.5 997.8 L1608.9 998.4 L1611.3 999.0 L1613.8 999.6 L1616.2 1000.2 L1618.6 1000.8 L1621.1 1001.4 L1623.5 1001.9 L1626.0 1002.5 L1628.5 1003.0 L1630.9 1003.6 L1633.4 1004.1 L1635.8 1004.6 L1638.3 1005.1 L1640.8 1005.6 L1643.3 1006.1 L1645.7 1006.6 L1648.2 1007.1 L1650.7 1007.5 L1653.2 1008.0 L1655.6 1008.5 L1658.1 1008.9 L1660.6 1009.4 L1663.1 1009.8 L1665.6 1010.2 L1668.1 1010.7 L1670.5 1011.1 L1673.0 1011.6 L1675.5 1012.0 L1678.0 1012.4 L1680.5 1012.8 L1683.0 1013.3 L1685.4 1013.7 L1687.9 1014.1 L1690.4 1014.6 L1692.9 1015.0 L1695.3 1015.4 L1697.8 1015.8 L1700.3 1016.3 L1702.8 1016.7 L1705.2 1017.1 L1707.7 1017.6 L1710.2 1018.0 L1712.6 1018.4 L1715.1 1018.8 L1717.6 1019.3 L1720.0 1019.7 L1722.5 1020.1 L1725.0 1020.5 L1727.4 1020.9 L1729.9 1021.4 L1732.4 1021.8 L1734.8 1022.2 L1737.3 1022.6 L1739.7 1023.0 L1742.2 1023.4 L1744.7 1023.8 L1747.1 1024.2 L1749.6 1024.7 L1752.0 1025.1 L1754.5 1025.5 L1757.0 1025.9 L1759.4 1026.2 L1761.9 1026.6 L1764.3 1027.0 L1766.8 1027.4 L1769.3 1027.8 L1771.7 1028.2 L1774.2 1028.6 L1776.6 1029.0 L1779.1 1029.3 L1781.5 1029.7 L1784.0 1030.1 L1786.5 1030.4 L1788.9 1030.8 L1791.4 1031.2 L1793.9 1031.5 L1796.3 1031.9 L1798.8 1032.2 L1801.3 1032.6 L1803.7 1032.9 L1806.2 1033.2 L1808.7 1033.6 L1811.1 1033.9 L1813.6 1034.2 L1816.1 1034.5 L1818.5 1034.9 L1821.0 1035.2 L1823.5 1035.5 L1825.9 1035.8 L1828.4 1036.1 L1830.9 1036.4 L1833.4 1036.7 L1835.9 1037.0 L1838.3 1037.2 L1840.8 1037.5 L1843.3 1037.8 L1845.8 1038.0 L1848.3 1038.3 L1850.8 1038.6 L1853.3 1038.8 L1855.7 1039.0 L1858.2 1039.3 L1860.7 1039.5 L1863.2 1039.7 L1865.7 1040.0 L1868.2 1040.2 L1870.7 1040.4 L1873.2 1040.6 L1875.7 1040.8 L1878.3 1041.0 L1880.8 1041.2 L1883.3 1041.3 L1885.8 1041.5 L1888.3 1041.7 L1890.8 1041.8 L1893.4 1042.0 L1895.9 1042.1 L1898.4 1042.3 L1900.9 1042.4 L1903.5 1042.5 L1906.0 1042.6 L1908.5 1042.7 L1911.1 1042.8" stroke="#ff0000" stroke-width="1.4" fill="none" stroke-linejoin="round" filter="url(#sqpen)"/>
<path d="M249.1 41.6 L251.6 41.7 L254.1 41.8 L256.5 41.9 L259.0 42.0 L261.5 42.1 L264.0 42.2 L266.5 42.2 L269.0 42.3 L271.5 42.4 L274.0 42.5 L276.5 42.5 L279.0 42.6 L281.5 42.7 L284.0 42.7 L286.5 42.8 L289.0 42.8 L291.5 42.9 L294.0 43.0 L296.5 43.0 L299.0 43.1 L301.5 43.1 L304.0 43.2 L306.5 43.2 L309.0 43.3 L311.5 43.3 L314.0 43.3 L316.5 43.4 L319.0 43.4 L321.5 43.5 L324.0 43.5 L326.5 43.5 L329.0 43.6 L331.5 43.6 L334.0 43.6 L336.5 43.7 L339.0 43.7 L341.5 43.7 L344.0 43.8 L346.5 43.8 L349.0 43.8 L351.5 43.8 L354.0 43.9 L356.6 43.9 L359.1 43.9 L361.6 44.0 L364.1 44.0 L366.6 44.0 L369.1 44.0 L371.6 44.1 L374.1 44.1 L376.6 44.1 L379.1 44.1 L381.6 44.2 L384.1 44.2 L386.6 44.2 L389.1 44.2 L391.7 44.3 L394.2 44.3 L396.7 44.3 L399.2 44.3 L401.7 44.4 L404.2 44.4 L406.7 44.4 L409.2 44.4 L411.7 44.5 L414.2 44.5 L416.7 44.5 L419.2 44.6 L421.8 44.6 L424.3 44.6 L426.8 44.7 L429.3 44.7 L431.8 44.7 L434.3 44.8 L436.8 44.8 L439.3 44.9 L441.8 44.9 L444.3 44.9 L446.8 45.0 L449.3 45.0 L451.9 45.1 L454.4 45.1 L456.9 45.2 L459.4 45.2 L461.9 45.3 L464.4 45.4 L466.9 45.4 L469.4 45.5 L471.9 45.5 L474.4 45.6 L476.9 45.7 L479.4 45.7 L481.9 45.8 L484.4 45.9 L487.0 46.0 L489.5 46.0 L492.0 46.1 L494.5 46.2 L497.0 46.3 L499.5 46.4 L502.0 46.5 L504.5 46.6 L507.0 46.7 L509.5 46.8 L512.0 46.9 L514.5 47.0 L517.0 47.1 L519.5 47.2 L522.0 47.3 L524.5 47.4 L527.0 47.5 L529.5 47.7 L532.0 47.8 L534.5 47.9 L537.0 48.1 L539.5 48.2 L542.0 48.3 L544.5 48.5 L547.0 48.6 L549.5 48.8 L552.0 48.9 L554.5 49.1 L557.0 49.3 L559.5 49.4 L562.0 49.6 L564.5 49.8 L567.0 50.0 L569.5 50.1 L572.0 50.3 L574.5 50.5 L577.0 50.7 L579.5 50.9 L582.0 51.1 L584.4 51.3 L586.9 51.6 L589.4 51.8 L591.9 52.0 L594.4 52.2 L596.9 52.5 L599.4 52.7 L601.9 52.9 L604.4 53.2 L606.9 53.4 L609.3 53.7 L611.8 54.0 L614.3 54.2 L616.8 54.5 L619.3 54.8 L621.8 55.1 L624.3 55.4 L626.7 55.7 L629.2 56.0 L631.7 56.3 L634.2 56.6 L636.7 56.9 L639.1 57.2 L641.6 57.5 L644.1 57.9 L646.6 58.2 L649.0 58.6 L651.5 58.9 L654.0 59.3 L656.5 59.6 L658.9 60.0 L661.4 60.4 L663.9 60.7 L666.4 61.1 L668.8 61.5 L671.3 61.9 L673.8 62.3 L676.2 62.7 L678.7 63.1 L681.2 63.6 L683.6 64.0 L686.1 64.4 L688.6 64.8 L691.0 65.3 L693.5 65.7 L696.0 66.2 L698.4 66.6 L700.9 67.1 L703.3 67.6 L705.8 68.0 L708.2 68.5 L710.7 69.0 L713.2 69.5 L715.6 70.0 L718.1 70.5 L720.5 71.0 L723.0 71.5 L725.4 72.0 L727.9 72.5 L730.3 73.1 L732.7 73.6 L735.2 74.1 L737.6 74.7 L740.1 75.2 L742.5 75.8 L745.0 76.3 L747.4 76.9 L749.8 77.4 L752.3 78.0 L754.7 78.5 L757.2 79.1 L759.6 79.6 L762.0 80.2 L764.5 80.7 L766.9 81.3 L769.4 81.8 L771.8 82.4 L774.2 82.9 L776.7 83.4 L779.1 84.0 L781.6 84.5 L784.0 85.0 L786.5 85.5 L788.9 86.1 L791.4 86.6 L793.8 87.1 L796.2 87.6 L798.7 88.0 L801.2 88.5 L803.6 89.0 L806.1 89.4 L808.5 89.9 L811.0 90.3 L813.4 90.7 L815.9 91.2 L818.4 91.6 L820.8 91.9 L823.3 92.3 L825.8 92.7 L828.2 93.0 L830.7 93.4 L833.2 93.7 L835.7 94.1 L838.2 94.4 L840.6 94.7 L843.1 95.0 L845.6 95.2 L848.1 95.5 L850.6 95.8 L853.1 96.0 L855.6 96.3 L858.1 96.5 L860.6 96.8 L863.1 97.0 L865.5 97.2 L868.0 97.4 L870.5 97.6 L873.0 97.8 L875.5 98.0 L878.0 98.2 L880.6 98.3 L883.1 98.5 L885.6 98.6 L888.1 98.8 L890.6 98.9 L893.1 99.1 L895.6 99.2 L898.1 99.3 L900.6 99.5 L903.1 99.6 L905.6 99.7 L908.1 99.8 L910.6 99.9 L913.1 100.0 L915.7 100.1 L918.2 100.2 L920.7 100.3 L923.2 100.4 L925.7 100.5 L928.2 100.6 L930.7 100.6 L933.2 100.7 L935.7 100.8 L938.3 100.9 L940.8 100.9 L943.3 101.0 L945.8 101.1 L948.3 101.2 L950.8 101.2 L953.3 101.3 L955.8 101.4 L958.3 101.4 L960.8 101.5 L963.3 101.6 L965.8 101.6 L968.3 101.7 L970.8 101.8 L973.3 101.8 L975.8 101.9 L978.3 102.0 L980.8 102.1 L983.3 102.2 L985.8 102.2 L988.3 102.3 L990.8 102.4 L993.3 102.5 L995.8 102.6 L998.3 102.7 L1000.8 102.8 L1003.3 102.9 L1005.8 103.0 L1008.2 103.1 L1010.7 103.2 L1013.2 103.3 L1015.7 103.5 L1018.2 103.6 L1020.7 103.7 L1023.2 103.9 L1025.7 104.0 L1028.1 104.2 L1030.6 104.3 L1033.1 104.5 L1035.6 104.7 L1038.1 104.8 L1040.6 105.0 L1043.1 105.2 L1045.6 105.4 L1048.1 105.6 L1050.6 105.8 L1053.1 106.1 L1055.6 106.3 L1058.1 106.5 L1060.6 106.8 L1063.1 107.0 L1065.6 107.3 L1068.1 107.6 L1070.6 107.9 L1073.1 108.1 L1075.6 108.5 L1078.1 108.8 L1080.7 109.1 L1083.2 109.4 L1085.7 109.8 L1088.2 110.1 L1090.8 110.5 L1093.3 110.9 L1095.8 111.3 L1098.4 111.7 L1100.9 112.1 L1103.4 112.6 L1106.0 113.0 L1108.5 113.5 L1111.0 114.1 L1113.4 114.7 L1115.9 115.3 L1118.3 115.9 L1120.7 116.6 L1123.1 117.4 L1125.5 118.2 L1127.8 119.0 L1130.1 120.0 L1132.3 121.0 L1134.5 122.0 L1136.6 123.1 L1138.7 124.3 L1140.8 125.6 L1142.8 126.9 L1144.8 128.3 L1146.7 129.8 L1148.5 131.3 L1150.3 132.9 L1152.1 134.6 L1153.8 136.3 L1155.4 138.0 L1157.0 139.8 L1158.5 141.7 L1159.9 143.6 L1161.3 145.6 L1162.7 147.7 L1163.9 149.7 L1165.1 151.8 L1166.3 154.0 L1167.4 156.2 L1168.4 158.4 L1169.4 160.7 L1170.4 163.0 L1171.3 165.3 L1172.1 167.7 L1173.0 170.1 L1173.8 172.5 L1174.5 174.9 L1175.3 177.4 L1176.0 179.8 L1176.7 182.3 L1177.4 184.8 L1178.1 187.3 L1178.7 189.8 L1179.4 192.3 L1180.0 194.8 L1180.6 197.3 L1181.3 199.8 L1181.9 202.3 L1182.5 204.8 L1183.2 207.3 L1183.8 209.8 L1184.5 212.3 L1185.1 214.7 L1185.8 217.2 L1186.4 219.7 L1187.0 222.1 L1187.7 224.6 L1188.3 227.0 L1189.0 229.5 L1189.6 231.9 L1190.3 234.4 L1190.9 236.8 L1191.6 239.2 L1192.2 241.7 L1192.8 244.1 L1193.5 246.5 L1194.1 249.0 L1194.8 251.4 L1195.4 253.8 L1196.0 256.2 L1196.7 258.6 L1197.3 261.0 L1197.9 263.5 L1198.6 265.9 L1199.2 268.3 L1199.8 270.7 L1200.4 273.1 L1201.0 275.5 L1201.7 277.9 L1202.3 280.3 L1202.9 282.7 L1203.5 285.1 L1204.1 287.5 L1204.7 289.9 L1205.3 292.3 L1205.9 294.7 L1206.5 297.1 L1207.0 299.6 L1207.6 302.0 L1208.2 304.4 L1208.8 306.8 L1209.3 309.2 L1209.9 311.6 L1210.4 314.0 L1211.0 316.4 L1211.5 318.9 L1212.1 321.3 L1212.6 323.7 L1213.1 326.1 L1213.7 328.6 L1214.2 331.0 L1214.7 333.4 L1215.2 335.9 L1215.7 338.3 L1216.2 340.7 L1216.6 343.2 L1217.1 345.6 L1217.6 348.1 L1218.0 350.5 L1218.5 353.0 L1219.0 355.5 L1219.4 357.9 L1219.8 360.4 L1220.3 362.9 L1220.7 365.3 L1221.2 367.8 L1221.6 370.3 L1222.0 372.7 L1222.4 375.2 L1222.9 377.7 L1223.3 380.2 L1223.7 382.7 L1224.1 385.1 L1224.5 387.6 L1224.9 390.1 L1225.3 392.6 L1225.7 395.1 L1226.1 397.6 L1226.5 400.0 L1227.0 402.5 L1227.4 405.0 L1227.8 407.5 L1228.2 410.0 L1228.6 412.5 L1229.0 414.9 L1229.4 417.4 L1229.8 419.9 L1230.2 422.4 L1230.7 424.9 L1231.1 427.4 L1231.5 429.8 L1231.9 432.3 L1232.4 434.8 L1232.8 437.3 L1233.2 439.7 L1233.7 442.2 L1234.1 444.7 L1234.6 447.1 L1235.0 449.6 L1235.5 452.1 L1236.0 454.5 L1236.4 457.0 L1236.9 459.5 L1237.4 461.9 L1237.9 464.4 L1238.3 466.8 L1238.8 469.3 L1239.3 471.7 L1239.8 474.2 L1240.3 476.6 L1240.9 479.1 L1241.4 481.5 L1241.9 484.0 L1242.4 486.4 L1242.9 488.8 L1243.5 491.3 L1244.0 493.7 L1244.6 496.1 L1245.1 498.6 L1245.7 501.0 L1246.2 503.5 L1246.8 505.9 L1247.3 508.3 L1247.9 510.7 L1248.5 513.2 L1249.1 515.6 L1249.6 518.0 L1250.2 520.5 L1250.8 522.9 L1251.4 525.3 L1252.0 527.7 L1252.6 530.2 L1253.2 532.6 L1253.9 535.0 L1254.5 537.4 L1255.1 539.9 L1255.7 542.3 L1256.4 544.7 L1257.0 547.1 L1257.6 549.6 L1258.3 552.0 L1258.9 554.4 L1259.6 556.8 L1260.2 559.2 L1260.9 561.7 L1261.6 564.1 L1262.2 566.5 L1262.9 568.9 L1263.6 571.4 L1264.3 573.8 L1265.0 576.2 L1265.7 578.6 L1266.4 581.0 L1267.1 583.4 L1267.9 585.8 L1268.6 588.2 L1269.4 590.6 L1270.2 593.0 L1270.9 595.4 L1271.7 597.8 L1272.6 600.2 L1273.4 602.5 L1274.3 604.9 L1275.1 607.2 L1276.0 609.6 L1276.9 611.9 L1277.8 614.2 L1278.8 616.5 L1279.8 618.8 L1280.7 621.1 L1281.8 623.4 L1282.8 625.7 L1283.8 627.9 L1284.9 630.2 L1286.0 632.4 L1287.1 634.6 L1288.2 636.8 L1289.4 639.1 L1290.5 641.3 L1291.7 643.5 L1292.9 645.6 L1294.1 647.8 L1295.3 650.0 L1296.6 652.2 L1297.8 654.3 L1299.0 656.5 L1300.3 658.6 L1301.6 660.8 L1302.9 662.9 L1304.1 665.1 L1305.4 667.2 L1306.7 669.4 L1308.1 671.5 L1309.4 673.6 L1310.7 675.8 L1312.0 677.9 L1313.3 680.0 L1314.6 682.2 L1315.9 684.3 L1317.3 686.4 L1318.6 688.6 L1319.9 690.7 L1321.2 692.8 L1322.5 695.0 L1323.7 697.2 L1325.0 699.3 L1326.3 701.5 L1327.5 703.6 L1328.8 705.8 L1330.0 708.0 L1331.3 710.2 L1332.5 712.4 L1333.7 714.5 L1334.9 716.7 L1336.1 718.9 L1337.3 721.1 L1338.5 723.3 L1339.7 725.5 L1340.9 727.7 L1342.1 730.0 L1343.2 732.2 L1344.4 734.4 L1345.5 736.6 L1346.7 738.8 L1347.8 741.0 L1349.0 743.3 L1350.1 745.5 L1351.2 747.7 L1352.4 749.9 L1353.5 752.2 L1354.6 754.4 L1355.7 756.6 L1356.8 758.9 L1357.9 761.1 L1359.0 763.3 L1360.2 765.6 L1361.2 767.8 L1362.3 770.1 L1363.4 772.3 L1364.5 774.6 L1365.6 776.8 L1366.7 779.1 L1367.8 781.3 L1368.9 783.6 L1369.9 785.8 L1371.0 788.1 L1372.1 790.3 L1373.2 792.6 L1374.3 794.9 L1375.3 797.1 L1376.4 799.4 L1377.5 801.7 L1378.6 803.9 L1379.6 806.2 L1380.7 808.5 L1381.8 810.8 L1382.9 813.0 L1384.0 815.3 L1385.0 817.6 L1386.1 819.8 L1387.2 822.1 L1388.3 824.4 L1389.4 826.6 L1390.5 828.9 L1391.6 831.2 L1392.7 833.4 L1393.8 835.7 L1395.0 837.9 L1396.1 840.2 L1397.2 842.4 L1398.4 844.7 L1399.5 846.9 L1400.7 849.1 L1401.8 851.3 L1403.0 853.6 L1404.2 855.8 L1405.4 858.0 L1406.6 860.2 L1407.8 862.4 L1409.0 864.6 L1410.2 866.8 L1411.4 869.0 L1412.7 871.1 L1413.9 873.3 L1415.2 875.5 L1416.5 877.6 L1417.8 879.8 L1419.1 881.9 L1420.4 884.0 L1421.7 886.1 L1423.0 888.2 L1424.4 890.3 L1425.8 892.4 L1427.2 894.5 L1428.5 896.6 L1430.0 898.6 L1431.4 900.6 L1432.8 902.7 L1434.3 904.7 L1435.8 906.7 L1437.3 908.7 L1438.8 910.7 L1440.3 912.7 L1441.9 914.6 L1443.4 916.6 L1445.0 918.5 L1446.6 920.4 L1448.2 922.3 L1449.8 924.2 L1451.5 926.1 L1453.1 928.0 L1454.8 929.8 L1456.5 931.7 L1458.2 933.5 L1459.9 935.4 L1461.6 937.2 L1463.3 939.0 L1465.1 940.8 L1466.8 942.5 L1468.6 944.3 L1470.4 946.1 L1472.2 947.8 L1474.0 949.5 L1475.8 951.3 L1477.7 953.0 L1479.5 954.7 L1481.4 956.3 L1483.2 958.0 L1485.1 959.7 L1487.0 961.3 L1488.9 963.0 L1490.8 964.6 L1492.7 966.2 L1494.7 967.8 L1496.6 969.4 L1498.5 971.0 L1500.5 972.6 L1502.5 974.2 L1504.4 975.7 L1506.4 977.3 L1508.4 978.8 L1510.4 980.3 L1512.4 981.8 L1514.4 983.3 L1516.5 984.7 L1518.5 986.2 L1520.5 987.6 L1522.6 989.0 L1524.7 990.4 L1526.8 991.8 L1528.9 993.1 L1531.0 994.4 L1533.1 995.7 L1535.2 997.0 L1537.4 998.2 L1539.6 999.5 L1541.7 1000.7 L1543.9 1001.8 L1546.1 1003.0 L1548.4 1004.1 L1550.6 1005.2 L1552.8 1006.3 L1555.1 1007.3 L1557.4 1008.3 L1559.7 1009.3 L1562.0 1010.3 L1564.3 1011.2 L1566.6 1012.1 L1568.9 1013.0 L1571.3 1013.9 L1573.6 1014.8 L1576.0 1015.6 L1578.3 1016.5 L1580.7 1017.3 L1583.1 1018.1 L1585.4 1018.9 L1587.8 1019.6 L1590.2 1020.4 L1592.6 1021.2 L1595.0 1021.9 L1597.4 1022.6 L1599.8 1023.4 L1602.2 1024.1 L1604.6 1024.8 L1607.0 1025.5 L1609.5 1026.2 L1611.9 1026.9 L1614.3 1027.5 L1616.7 1028.2 L1619.1 1028.9 L1621.5 1029.5 L1624.0 1030.2 L1626.4 1030.8 L1628.8 1031.5 L1631.2 1032.1 L1633.7 1032.7 L1636.1 1033.3 L1638.5 1033.9 L1640.9 1034.5 L1643.4 1035.1 L1645.8 1035.7 L1648.2 1036.3 L1650.7 1036.9 L1653.1 1037.5 L1655.6 1038.0 L1658.0 1038.6 L1660.4 1039.1 L1662.9 1039.7 L1665.3 1040.2 L1667.8 1040.7 L1670.2 1041.3 L1672.7 1041.8 L1675.1 1042.3 L1677.6 1042.8 L1680.0 1043.3 L1682.5 1043.8 L1684.9 1044.3 L1687.4 1044.8 L1689.9 1045.3 L1692.3 1045.8 L1694.8 1046.2 L1697.2 1046.7 L1699.7 1047.2 L1702.2 1047.6 L1704.6 1048.1 L1707.1 1048.5 L1709.5 1049.0 L1712.0 1049.4 L1714.5 1049.8 L1716.9 1050.2 L1719.4 1050.7 L1721.9 1051.1 L1724.4 1051.5 L1726.8 1051.9 L1729.3 1052.3 L1731.8 1052.7 L1734.2 1053.1 L1736.7 1053.5 L1739.2 1053.9 L1741.7 1054.2 L1744.1 1054.6 L1746.6 1055.0 L1749.1 1055.3 L1751.6 1055.7 L1754.1 1056.1 L1756.5 1056.4 L1759.0 1056.8 L1761.5 1057.1 L1764.0 1057.4 L1766.5 1057.8 L1769.0 1058.1 L1771.4 1058.4 L1773.9 1058.8 L1776.4 1059.1 L1778.9 1059.4 L1781.4 1059.7 L1783.9 1060.0 L1786.4 1060.3 L1788.8 1060.6 L1791.3 1060.9 L1793.8 1061.2 L1796.3 1061.5 L1798.8 1061.8 L1801.3 1062.1 L1803.8 1062.4 L1806.3 1062.6 L1808.8 1062.9 L1811.3 1063.2 L1813.7 1063.5 L1816.2 1063.7 L1818.7 1064.0 L1821.2 1064.2 L1823.7 1064.5 L1826.2 1064.8 L1828.7 1065.0 L1831.2 1065.3 L1833.7 1065.5 L1836.2 1065.7 L1838.7 1066.0 L1841.2 1066.2 L1843.7 1066.5 L1846.2 1066.7 L1848.7 1066.9 L1851.1 1067.2 L1853.6 1067.4 L1856.1 1067.6 L1858.6 1067.8 L1861.1 1068.1 L1863.6 1068.3 L1866.1 1068.5 L1868.6 1068.7 L1871.1 1068.9 L1873.6 1069.1 L1876.1 1069.3 L1878.6 1069.6 L1881.1 1069.8 L1883.6 1070.0 L1886.1 1070.2 L1888.5 1070.4 L1891.0 1070.6 L1893.5 1070.8 L1896.0 1071.0 L1898.5 1071.2 L1901.0 1071.4 L1903.5 1071.6 L1906.0 1071.7 L1908.5 1071.9 L1911.0 1072.1" stroke="#00ff00" stroke-width="1.4" fill="none" stroke-linejoin="round" filter="url(#sqpen)"/>
<path d="M249.0 41.2 L251.5 41.3 L254.0 41.4 L256.5 41.4 L259.0 41.5 L261.5 41.5 L264.0 41.6 L266.5 41.6 L269.0 41.7 L271.5 41.7 L274.0 41.8 L276.5 41.8 L279.0 41.8 L281.5 41.9 L284.0 41.9 L286.5 41.9 L289.0 42.0 L291.5 42.0 L294.0 42.0 L296.5 42.1 L299.0 42.1 L301.5 42.1 L304.0 42.2 L306.5 42.2 L309.0 42.2 L311.5 42.2 L314.0 42.2 L316.5 42.3 L319.0 42.3 L321.5 42.3 L324.0 42.3 L326.5 42.3 L329.0 42.3 L331.5 42.4 L334.0 42.4 L336.5 42.4 L339.1 42.4 L341.6 42.4 L344.1 42.4 L346.6 42.4 L349.1 42.4 L351.6 42.5 L354.1 42.5 L356.6 42.5 L359.1 42.5 L361.6 42.5 L364.1 42.5 L366.6 42.5 L369.1 42.5 L371.6 42.5 L374.1 42.5 L376.6 42.5 L379.1 42.5 L381.6 42.6 L384.1 42.6 L386.6 42.6 L389.1 42.6 L391.6 42.6 L394.1 42.6 L396.6 42.6 L399.1 42.6 L401.7 42.6 L404.2 42.6 L406.7 42.6 L409.2 42.6 L411.7 42.7 L414.2 42.7 L416.7 42.7 L419.2 42.7 L421.7 42.7 L424.2 42.7 L426.7 42.7 L429.2 42.8 L431.7 42.8 L434.2 42.8 L436.7 42.8 L439.2 42.8 L441.7 42.9 L444.2 42.9 L446.7 42.9 L449.2 42.9 L451.7 42.9 L454.2 43.0 L456.8 43.0 L459.3 43.0 L461.8 43.1 L464.3 43.1 L466.8 43.1 L469.3 43.2 L471.8 43.2 L474.3 43.2 L476.8 43.3 L479.3 43.3 L481.8 43.4 L484.3 43.4 L486.8 43.5 L489.3 43.5 L491.8 43.6 L494.3 43.6 L496.8 43.7 L499.3 43.7 L501.8 43.8 L504.3 43.8 L506.8 43.9 L509.3 44.0 L511.8 44.0 L514.3 44.1 L516.8 44.2 L519.3 44.2 L521.8 44.3 L524.3 44.4 L526.8 44.5 L529.3 44.6 L531.8 44.7 L534.3 44.7 L536.8 44.8 L539.3 44.9 L541.8 45.0 L544.3 45.1 L546.8 45.2 L549.3 45.3 L551.8 45.4 L554.3 45.6 L556.8 45.7 L559.3 45.8 L561.8 45.9 L564.3 46.0 L566.8 46.1 L569.3 46.3 L571.8 46.4 L574.3 46.5 L576.8 46.7 L579.3 46.8 L581.8 47.0 L584.3 47.1 L586.8 47.3 L589.3 47.4 L591.8 47.6 L594.3 47.8 L596.8 47.9 L599.3 48.1 L601.8 48.3 L604.3 48.4 L606.8 48.6 L609.3 48.8 L611.8 49.0 L614.3 49.2 L616.8 49.4 L619.3 49.6 L621.8 49.8 L624.2 50.0 L626.7 50.2 L629.2 50.4 L631.7 50.6 L634.2 50.9 L636.7 51.1 L639.2 51.3 L641.7 51.6 L644.2 51.8 L646.7 52.1 L649.2 52.3 L651.7 52.6 L654.1 52.8 L656.6 53.1 L659.1 53.4 L661.6 53.6 L664.1 53.9 L666.6 54.2 L669.1 54.5 L671.6 54.8 L674.0 55.1 L676.5 55.4 L679.0 55.7 L681.5 56.0 L684.0 56.3 L686.5 56.6 L688.9 56.9 L691.4 57.3 L693.9 57.6 L696.4 57.9 L698.9 58.3 L701.3 58.6 L703.8 59.0 L706.3 59.3 L708.8 59.7 L711.2 60.1 L713.7 60.4 L716.2 60.8 L718.7 61.2 L721.1 61.6 L723.6 62.0 L726.1 62.3 L728.5 62.7 L731.0 63.1 L733.5 63.5 L735.9 64.0 L738.4 64.4 L740.9 64.8 L743.3 65.2 L745.8 65.6 L748.3 66.0 L750.7 66.5 L753.2 66.9 L755.6 67.3 L758.1 67.8 L760.6 68.2 L763.0 68.6 L765.5 69.0 L767.9 69.5 L770.4 69.9 L772.9 70.3 L775.3 70.7 L777.8 71.1 L780.2 71.6 L782.7 72.0 L785.2 72.4 L787.6 72.8 L790.1 73.2 L792.6 73.6 L795.0 74.0 L797.5 74.3 L800.0 74.7 L802.4 75.1 L804.9 75.5 L807.4 75.8 L809.8 76.2 L812.3 76.5 L814.8 76.8 L817.3 77.2 L819.7 77.5 L822.2 77.8 L824.7 78.1 L827.2 78.4 L829.7 78.7 L832.2 78.9 L834.6 79.2 L837.1 79.5 L839.6 79.7 L842.1 80.0 L844.6 80.2 L847.1 80.4 L849.6 80.6 L852.1 80.9 L854.6 81.1 L857.1 81.3 L859.6 81.5 L862.1 81.7 L864.6 81.9 L867.1 82.0 L869.6 82.2 L872.1 82.4 L874.6 82.6 L877.1 82.7 L879.6 82.9 L882.1 83.0 L884.6 83.2 L887.1 83.3 L889.6 83.5 L892.1 83.6 L894.6 83.8 L897.1 83.9 L899.6 84.0 L902.1 84.1 L904.7 84.3 L907.2 84.4 L909.7 84.5 L912.2 84.6 L914.7 84.8 L917.2 84.9 L919.7 85.0 L922.2 85.1 L924.7 85.2 L927.2 85.3 L929.7 85.4 L932.2 85.5 L934.7 85.7 L937.2 85.8 L939.7 85.9 L942.2 86.0 L944.7 86.1 L947.2 86.2 L949.7 86.3 L952.2 86.4 L954.7 86.6 L957.2 86.7 L959.7 86.8 L962.2 86.9 L964.7 87.0 L967.2 87.2 L969.7 87.3 L972.2 87.4 L974.7 87.6 L977.2 87.7 L979.7 87.8 L982.2 88.0 L984.7 88.1 L987.2 88.3 L989.6 88.4 L992.1 88.6 L994.6 88.8 L997.1 88.9 L999.6 89.1 L1002.1 89.3 L1004.5 89.5 L1007.0 89.7 L1009.5 89.8 L1012.0 90.0 L1014.5 90.2 L1016.9 90.4 L1019.4 90.6 L1021.9 90.8 L1024.4 91.0 L1026.8 91.3 L1029.3 91.5 L1031.8 91.7 L1034.3 91.9 L1036.8 92.2 L1039.3 92.4 L1041.7 92.6 L1044.2 92.9 L1046.7 93.1 L1049.2 93.4 L1051.7 93.7 L1054.2 93.9 L1056.7 94.2 L1059.2 94.4 L1061.7 94.7 L1064.2 95.0 L1066.7 95.3 L1069.2 95.6 L1071.7 95.9 L1074.2 96.2 L1076.7 96.5 L1079.2 96.8 L1081.7 97.1 L1084.3 97.4 L1086.8 97.7 L1089.3 98.0 L1091.9 98.3 L1094.4 98.7 L1096.9 99.0 L1099.5 99.3 L1102.0 99.7 L1104.5 100.1 L1107.1 100.5 L1109.6 100.9 L1112.1 101.4 L1114.6 101.9 L1117.0 102.4 L1119.5 103.0 L1121.9 103.6 L1124.3 104.3 L1126.7 105.1 L1129.0 105.9 L1131.3 106.7 L1133.6 107.6 L1135.8 108.7 L1138.0 109.7 L1140.1 110.9 L1142.2 112.1 L1144.3 113.4 L1146.3 114.8 L1148.3 116.2 L1150.2 117.7 L1152.0 119.3 L1153.9 120.9 L1155.6 122.6 L1157.3 124.4 L1159.0 126.2 L1160.5 128.0 L1162.1 129.9 L1163.5 131.9 L1164.9 133.9 L1166.3 136.0 L1167.5 138.1 L1168.7 140.2 L1169.9 142.4 L1171.0 144.6 L1172.1 146.9 L1173.1 149.2 L1174.0 151.5 L1175.0 153.9 L1175.9 156.2 L1176.7 158.6 L1177.6 161.0 L1178.4 163.4 L1179.1 165.8 L1179.9 168.3 L1180.7 170.7 L1181.4 173.2 L1182.1 175.6 L1182.8 178.0 L1183.6 180.5 L1184.3 182.9 L1184.9 185.4 L1185.6 187.8 L1186.3 190.2 L1187.0 192.7 L1187.6 195.1 L1188.2 197.6 L1188.9 200.0 L1189.5 202.5 L1190.1 204.9 L1190.7 207.4 L1191.3 209.8 L1191.9 212.2 L1192.5 214.7 L1193.1 217.1 L1193.7 219.6 L1194.2 222.0 L1194.8 224.5 L1195.3 226.9 L1195.8 229.4 L1196.4 231.8 L1196.9 234.3 L1197.4 236.7 L1197.9 239.2 L1198.4 241.7 L1198.9 244.1 L1199.4 246.6 L1199.9 249.0 L1200.4 251.5 L1200.9 253.9 L1201.3 256.4 L1201.8 258.8 L1202.3 261.3 L1202.7 263.8 L1203.2 266.2 L1203.6 268.7 L1204.0 271.1 L1204.5 273.6 L1204.9 276.1 L1205.3 278.5 L1205.7 281.0 L1206.1 283.4 L1206.6 285.9 L1207.0 288.4 L1207.4 290.8 L1207.8 293.3 L1208.2 295.7 L1208.5 298.2 L1208.9 300.7 L1209.3 303.1 L1209.7 305.6 L1210.1 308.1 L1210.5 310.5 L1210.8 313.0 L1211.2 315.5 L1211.6 317.9 L1211.9 320.4 L1212.3 322.9 L1212.7 325.3 L1213.0 327.8 L1213.4 330.3 L1213.7 332.7 L1214.1 335.2 L1214.4 337.7 L1214.8 340.1 L1215.1 342.6 L1215.5 345.1 L1215.9 347.6 L1216.2 350.0 L1216.6 352.5 L1216.9 355.0 L1217.2 357.4 L1217.6 359.9 L1217.9 362.4 L1218.3 364.9 L1218.6 367.3 L1219.0 369.8 L1219.3 372.3 L1219.7 374.7 L1220.1 377.2 L1220.4 379.7 L1220.8 382.2 L1221.1 384.6 L1221.5 387.1 L1221.8 389.6 L1222.2 392.1 L1222.6 394.5 L1222.9 397.0 L1223.3 399.5 L1223.7 402.0 L1224.0 404.4 L1224.4 406.9 L1224.8 409.4 L1225.2 411.9 L1225.5 414.4 L1225.9 416.8 L1226.3 419.3 L1226.7 421.8 L1227.1 424.3 L1227.5 426.7 L1227.9 429.2 L1228.3 431.7 L1228.7 434.2 L1229.1 436.6 L1229.5 439.1 L1230.0 441.6 L1230.4 444.1 L1230.8 446.6 L1231.2 449.0 L1231.7 451.5 L1232.1 454.0 L1232.6 456.4 L1233.0 458.9 L1233.5 461.4 L1233.9 463.9 L1234.4 466.3 L1234.9 468.8 L1235.3 471.3 L1235.8 473.7 L1236.3 476.2 L1236.8 478.7 L1237.3 481.1 L1237.8 483.6 L1238.3 486.0 L1238.8 488.5 L1239.3 490.9 L1239.8 493.4 L1240.4 495.9 L1240.9 498.3 L1241.4 500.8 L1242.0 503.2 L1242.5 505.6 L1243.1 508.1 L1243.7 510.5 L1244.2 513.0 L1244.8 515.4 L1245.4 517.8 L1246.0 520.3 L1246.6 522.7 L1247.2 525.1 L1247.8 527.6 L1248.4 530.0 L1249.0 532.4 L1249.7 534.8 L1250.3 537.2 L1251.0 539.7 L1251.6 542.1 L1252.3 544.5 L1252.9 546.9 L1253.6 549.3 L1254.3 551.7 L1255.0 554.1 L1255.7 556.5 L1256.4 558.9 L1257.1 561.2 L1257.9 563.6 L1258.6 566.0 L1259.3 568.4 L1260.1 570.8 L1260.8 573.1 L1261.6 575.5 L1262.4 577.9 L1263.2 580.2 L1264.0 582.6 L1264.8 584.9 L1265.6 587.3 L1266.4 589.6 L1267.2 592.0 L1268.1 594.3 L1268.9 596.7 L1269.8 599.0 L1270.7 601.3 L1271.6 603.7 L1272.4 606.0 L1273.4 608.3 L1274.3 610.6 L1275.2 612.9 L1276.1 615.2 L1277.1 617.5 L1278.0 619.8 L1279.0 622.1 L1280.0 624.4 L1280.9 626.7 L1281.9 629.0 L1283.0 631.3 L1284.0 633.6 L1285.0 635.8 L1286.0 638.1 L1287.1 640.4 L1288.1 642.6 L1289.2 644.9 L1290.3 647.1 L1291.4 649.4 L1292.5 651.7 L1293.6 653.9 L1294.7 656.1 L1295.8 658.4 L1296.9 660.6 L1298.0 662.9 L1299.2 665.1 L1300.3 667.3 L1301.5 669.6 L1302.6 671.8 L1303.8 674.0 L1304.9 676.2 L1306.1 678.4 L1307.3 680.7 L1308.5 682.9 L1309.7 685.1 L1310.8 687.3 L1312.0 689.5 L1313.2 691.7 L1314.4 693.9 L1315.6 696.2 L1316.8 698.4 L1318.0 700.6 L1319.3 702.8 L1320.5 705.0 L1321.7 707.2 L1322.9 709.4 L1324.1 711.6 L1325.3 713.8 L1326.6 716.0 L1327.8 718.2 L1329.0 720.4 L1330.2 722.6 L1331.4 724.8 L1332.7 727.0 L1333.9 729.2 L1335.1 731.4 L1336.3 733.6 L1337.5 735.8 L1338.7 738.0 L1340.0 740.2 L1341.2 742.4 L1342.4 744.6 L1343.6 746.8 L1344.8 749.0 L1346.0 751.2 L1347.2 753.4 L1348.4 755.6 L1349.6 757.9 L1350.7 760.1 L1351.9 762.3 L1353.1 764.5 L1354.3 766.7 L1355.4 768.9 L1356.6 771.2 L1357.7 773.4 L1358.9 775.6 L1360.0 777.8 L1361.2 780.1 L1362.3 782.3 L1363.4 784.5 L1364.5 786.8 L1365.6 789.0 L1366.7 791.2 L1367.8 793.5 L1368.9 795.7 L1370.0 798.0 L1371.1 800.2 L1372.2 802.4 L1373.3 804.7 L1374.4 806.9 L1375.4 809.2 L1376.5 811.4 L1377.6 813.7 L1378.7 815.9 L1379.7 818.2 L1380.8 820.4 L1381.9 822.7 L1383.0 824.9 L1384.0 827.2 L1385.1 829.4 L1386.2 831.6 L1387.3 833.9 L1388.4 836.1 L1389.4 838.4 L1390.5 840.6 L1391.6 842.8 L1392.7 845.1 L1393.8 847.3 L1394.9 849.5 L1396.1 851.7 L1397.2 854.0 L1398.3 856.2 L1399.4 858.4 L1400.6 860.6 L1401.7 862.8 L1402.9 865.0 L1404.0 867.2 L1405.2 869.4 L1406.4 871.6 L1407.6 873.8 L1408.8 876.0 L1410.0 878.2 L1411.2 880.4 L1412.4 882.6 L1413.7 884.7 L1414.9 886.9 L1416.2 889.1 L1417.5 891.2 L1418.8 893.4 L1420.1 895.5 L1421.4 897.6 L1422.7 899.8 L1424.1 901.9 L1425.4 904.0 L1426.8 906.1 L1428.2 908.2 L1429.6 910.3 L1431.0 912.4 L1432.4 914.5 L1433.9 916.6 L1435.3 918.6 L1436.8 920.7 L1438.3 922.7 L1439.8 924.8 L1441.3 926.8 L1442.8 928.8 L1444.4 930.8 L1445.9 932.8 L1447.5 934.8 L1449.1 936.7 L1450.7 938.7 L1452.3 940.6 L1453.9 942.5 L1455.6 944.5 L1457.2 946.4 L1458.9 948.2 L1460.6 950.1 L1462.3 952.0 L1464.0 953.8 L1465.7 955.6 L1467.5 957.4 L1469.3 959.2 L1471.0 961.0 L1472.8 962.7 L1474.6 964.5 L1476.5 966.2 L1478.3 967.9 L1480.1 969.5 L1482.0 971.2 L1483.9 972.8 L1485.8 974.5 L1487.7 976.0 L1489.6 977.6 L1491.6 979.2 L1493.5 980.7 L1495.5 982.2 L1497.5 983.7 L1499.5 985.2 L1501.5 986.6 L1503.6 988.1 L1505.6 989.5 L1507.7 990.9 L1509.7 992.2 L1511.8 993.6 L1513.9 994.9 L1516.0 996.3 L1518.1 997.6 L1520.3 998.8 L1522.4 1000.1 L1524.6 1001.3 L1526.7 1002.6 L1528.9 1003.8 L1531.1 1005.0 L1533.3 1006.1 L1535.5 1007.3 L1537.7 1008.5 L1539.9 1009.6 L1542.1 1010.7 L1544.4 1011.8 L1546.6 1012.9 L1548.9 1013.9 L1551.2 1015.0 L1553.4 1016.0 L1555.7 1017.0 L1558.0 1018.0 L1560.3 1019.0 L1562.6 1020.0 L1564.9 1021.0 L1567.2 1021.9 L1569.6 1022.9 L1571.9 1023.8 L1574.2 1024.7 L1576.6 1025.6 L1578.9 1026.5 L1581.3 1027.4 L1583.6 1028.2 L1586.0 1029.1 L1588.4 1029.9 L1590.7 1030.7 L1593.1 1031.6 L1595.5 1032.4 L1597.8 1033.2 L1600.2 1034.0 L1602.6 1034.7 L1605.0 1035.5 L1607.4 1036.2 L1609.8 1037.0 L1612.2 1037.7 L1614.6 1038.5 L1617.0 1039.2 L1619.4 1039.9 L1621.8 1040.6 L1624.2 1041.3 L1626.6 1041.9 L1629.0 1042.6 L1631.4 1043.3 L1633.8 1043.9 L1636.2 1044.6 L1638.7 1045.2 L1641.1 1045.8 L1643.5 1046.5 L1645.9 1047.1 L1648.4 1047.7 L1650.8 1048.3 L1653.2 1048.8 L1655.7 1049.4 L1658.1 1050.0 L1660.5 1050.6 L1663.0 1051.1 L1665.4 1051.7 L1667.8 1052.2 L1670.3 1052.7 L1672.7 1053.2 L1675.2 1053.8 L1677.6 1054.3 L1680.1 1054.8 L1682.5 1055.3 L1685.0 1055.8 L1687.4 1056.2 L1689.9 1056.7 L1692.4 1057.2 L1694.8 1057.6 L1697.3 1058.1 L1699.7 1058.6 L1702.2 1059.0 L1704.7 1059.4 L1707.1 1059.9 L1709.6 1060.3 L1712.1 1060.7 L1714.5 1061.1 L1717.0 1061.5 L1719.5 1061.9 L1722.0 1062.3 L1724.4 1062.7 L1726.9 1063.1 L1729.4 1063.5 L1731.9 1063.9 L1734.3 1064.2 L1736.8 1064.6 L1739.3 1065.0 L1741.8 1065.3 L1744.3 1065.7 L1746.7 1066.0 L1749.2 1066.4 L1751.7 1066.7 L1754.2 1067.0 L1756.7 1067.4 L1759.2 1067.7 L1761.7 1068.0 L1764.1 1068.3 L1766.6 1068.7 L1769.1 1069.0 L1771.6 1069.3 L1774.1 1069.6 L1776.6 1069.9 L1779.1 1070.2 L1781.6 1070.5 L1784.1 1070.8 L1786.6 1071.1 L1789.1 1071.3 L1791.5 1071.6 L1794.0 1071.9 L1796.5 1072.2 L1799.0 1072.5 L1801.5 1072.7 L1804.0 1073.0 L1806.5 1073.3 L1809.0 1073.5 L1811.5 1073.8 L1814.0 1074.1 L1816.5 1074.3 L1819.0 1074.6 L1821.5 1074.8 L1824.0 1075.1 L1826.4 1075.3 L1828.9 1075.6 L1831.4 1075.8 L1833.9 1076.1 L1836.4 1076.3 L1838.9 1076.6 L1841.4 1076.8 L1843.9 1077.1 L1846.4 1077.3 L1848.9 1077.6 L1851.4 1077.8 L1853.9 1078.1 L1856.3 1078.3 L1858.8 1078.6 L1861.3 1078.8 L1863.8 1079.0 L1866.3 1079.3 L1868.8 1079.5 L1871.3 1079.8 L1873.8 1080.0 L1876.2 1080.3 L1878.7 1080.5 L1881.2 1080.8 L1883.7 1081.0 L1886.2 1081.3 L1888.6 1081.5 L1891.1 1081.7 L1893.6 1082.0 L1896.1 1082.3 L1898.6 1082.5 L1901.0 1082.8 L1903.5 1083.0 L1906.0 1083.3 L1908.4 1083.5 L1910.9 1083.8" stroke="#0000ff" stroke-width="1.4" fill="none" stroke-linejoin="round" filter="url(#sqpen)"/>
<path d="M262.8 47.5L266.7 43.5M300.7 49.1L300.7 56.1M321.5 52.9L321.5 59.7M368.9 59.2L368.9 65.1M382.7 50.6L382.7 57.5M397.8 56.1L404.6 56.1M408.2 58.8L413.9 58.8M449.9 46.8L456.4 46.8M467.3 47.9L474.5 47.9M524.2 43.5L531.7 43.5M611.5 47.0L611.5 53.6M615.9 67.2L615.9 73.0M740.3 55.6L740.3 62.4M761.3 71.4L768.0 71.4M791.4 54.1L791.4 61.1M809.0 62.8L815.4 62.8M846.0 53.5L852.6 53.5M857.4 57.3L862.5 52.2M875.9 46.3L882.1 46.3M938.0 60.3L942.1 56.3M952.9 44.7L957.6 49.3M982.7 63.5L988.8 63.5M1010.2 54.5L1016.8 54.5M1020.7 58.4L1028.0 58.4M1041.9 55.9L1046.5 60.5M1046.4 57.6L1051.5 52.5M1079.1 51.7L1083.9 46.9M1082.7 57.9L1087.0 62.2M1101.2 70.7L1108.4 70.7M1105.2 70.8L1111.1 70.8M1121.9 98.6L1128.0 98.6M1286.0 357.2L1291.8 357.2M1293.2 333.6L1293.2 341.1M1305.9 314.8L1311.7 314.8M1343.0 343.1L1347.1 339.0M1345.8 343.7L1350.1 339.5M1346.3 345.4L1353.8 345.4M1365.1 339.2L1372.4 339.2M1381.4 323.0L1387.7 323.0M1399.1 310.4L1405.3 310.4M1488.5 141.9L1495.8 141.9M1517.8 129.0L1517.8 136.1M1526.0 104.0L1530.0 108.0M1536.6 107.0L1540.7 111.0M1548.0 96.5L1552.6 101.2M1555.1 89.6L1555.1 96.3M1574.7 81.9L1579.8 87.0M1587.7 73.1L1593.7 73.1M1638.8 59.8L1643.1 55.5M1646.8 48.6L1651.2 53.0M1659.9 68.7L1665.1 73.9M1675.2 53.3L1675.2 59.0M1713.9 53.1L1718.2 48.8M1762.4 61.1L1767.1 65.9M1769.8 59.1L1775.9 59.1M1791.3 58.9L1795.4 62.9M1812.8 52.3L1817.5 57.0M1823.4 53.6L1827.4 49.7M1877.8 55.9L1877.8 61.4M1879.6 53.5L1884.7 58.6M1891.7 57.1L1891.7 63.1M1905.9 48.8L1910.5 53.5" stroke="#000000" stroke-width="1.5" fill="none"/>
<path d="M1134.6 143.5L1141.2 143.5M1147.2 233.8L1154.3 233.8M1157.6 301.6L1163.7 301.6M1168.5 449.9L1175.3 449.9M1173.2 529.9L1179.1 529.9M1173.9 564.2L1180.4 564.2M1177.3 597.0L1183.6 597.0M1178.4 619.7L1184.9 619.7M1179.3 642.9L1186.1 642.9M1179.7 654.1L1186.1 654.1M1186.6 791.0L1192.6 791.0M1194.3 917.0L1200.0 917.0M1195.2 928.5L1200.7 928.5M1195.5 939.6L1201.8 939.6M1224.9 903.6L1230.6 903.6M1226.2 892.0L1231.7 892.0M1226.8 880.9L1234.0 880.9M1238.6 743.9L1245.6 743.9M1247.2 605.2L1252.8 605.2M1250.6 536.6L1256.6 536.6M1251.8 513.5L1258.4 513.5M1402.6 296.2L1409.8 296.2" stroke="#000000" stroke-width="1.6" fill="none"/>
<path d="M251.6 49.7L258.0 49.7M271.3 54.6L277.0 54.6M281.3 50.4L285.8 46.0M284.8 65.1L292.2 65.1M293.4 49.7L300.0 49.7M305.7 55.7L312.1 55.7M309.4 48.4L313.4 44.3M338.2 46.0L345.0 46.0M345.1 56.5L350.0 61.3M346.4 47.5L353.8 47.5M354.5 48.8L361.8 48.8M370.7 48.8L377.2 48.8M388.7 51.9L393.7 56.8M390.8 59.4L398.1 59.4M405.3 43.5L410.1 48.3M415.8 63.1L420.5 58.4M423.6 43.6L428.2 48.2M429.6 46.1L434.3 50.8M431.7 53.7L438.6 53.7M441.5 51.2L445.7 55.4M442.9 47.3L450.0 47.3M459.5 59.0L465.3 59.0M476.2 49.8L481.0 54.6M480.2 61.6L484.4 57.3M485.9 54.3L490.7 59.1M493.9 53.3L500.3 53.3M507.4 43.5L512.3 48.5M515.9 49.4L515.9 55.6M533.9 51.7L538.8 56.6M540.5 48.6L540.5 56.0M544.8 56.4L550.5 56.4M551.3 50.2L558.5 50.2M553.5 57.5L560.6 57.5M562.7 70.5L567.2 65.9M574.5 56.8L579.2 52.1M583.5 43.5L583.5 50.2M592.2 53.1L596.1 57.1M593.5 60.2L600.8 60.2M606.3 54.1L606.3 60.1M617.1 61.4L621.4 57.2M622.3 60.1L628.8 60.1M638.3 49.6L638.3 56.4M640.2 59.8L647.6 59.8M650.4 64.3L656.0 64.3M655.7 67.4L662.8 67.4M658.6 55.5L663.0 59.9M665.0 61.1L669.6 56.5M670.0 64.4L675.2 69.5M673.3 70.3L680.5 70.3M682.1 70.5L687.1 75.5M686.7 73.3L692.7 73.3M691.7 65.9L696.6 70.8M696.6 60.1L703.7 60.1M710.6 60.8L717.6 60.8M724.4 59.6L728.9 55.1M735.3 70.1L735.3 76.2M745.3 61.8L752.0 61.8M749.3 62.2L755.0 62.2M767.2 61.0L774.7 61.0M771.6 54.9L777.9 54.9M777.2 58.4L781.9 53.7M784.3 57.1L789.1 61.9M795.8 57.7L802.8 57.7M800.5 50.2L805.8 55.4M812.0 54.7L816.1 58.7M821.3 62.0L827.1 62.0M832.3 50.2L838.3 50.2M841.6 52.8L845.5 56.7M853.3 57.0L853.3 63.4M864.3 48.0L868.9 43.5M890.3 53.8L895.1 48.9M897.4 55.2L897.4 61.3M906.6 62.0L906.6 69.3M912.8 55.9L919.0 55.9M923.6 48.6L928.7 43.5M929.0 56.5L934.6 56.5M940.5 62.5L944.6 58.5M946.1 61.8L950.7 57.2M957.9 68.9L965.0 68.9M967.7 44.2L975.0 44.2M988.6 65.7L992.5 61.8M989.1 67.6L995.0 67.6M997.5 49.5L1004.8 49.5M1012.8 68.3L1020.2 68.3M1029.9 43.5L1034.1 47.7M1050.0 52.1L1055.1 57.2M1054.7 54.8L1060.6 54.8M1072.3 57.4L1076.7 53.0M1088.2 70.8L1094.9 70.8M1094.3 64.7L1099.6 59.5M1096.3 68.0L1102.4 68.0M1107.4 74.8L1113.4 74.8M1110.1 75.5L1115.3 70.3M1115.6 96.1L1120.1 91.7M1116.8 87.2L1123.9 87.2M1120.7 93.6L1126.9 93.6M1124.5 111.0L1131.2 111.0M1129.0 121.4L1135.6 121.4M1132.1 132.5L1138.7 132.5M1138.0 154.5L1143.8 154.5M1140.3 177.3L1147.6 177.3M1141.4 188.8L1148.7 188.8M1143.4 200.2L1149.2 200.2M1143.3 211.5L1150.0 211.5M1145.5 222.8L1152.3 222.8M1149.7 245.0L1156.1 245.0M1153.2 267.3L1160.0 267.3M1156.4 290.2L1162.1 290.2M1160.6 347.3L1167.7 347.3M1162.2 358.6L1168.8 358.6M1164.0 381.2L1171.0 381.2M1166.5 415.6L1173.4 415.6M1167.9 427.0L1174.7 427.0M1167.7 438.7L1174.9 438.7M1170.1 472.8L1175.6 472.8M1171.6 495.4L1177.4 495.4M1172.7 518.5L1178.5 518.5M1174.2 552.5L1179.7 552.5M1176.0 574.5L1182.8 574.5M1177.6 608.3L1184.5 608.3M1178.8 631.3L1185.5 631.3M1180.1 665.5L1186.6 665.5M1181.1 676.8L1187.7 676.8M1182.4 688.5L1188.4 688.5M1181.4 699.8L1188.4 699.8M1185.2 720.7L1189.2 724.6M1184.8 733.9L1190.4 733.9M1184.7 745.2L1191.6 745.2M1185.8 768.0L1191.8 768.0M1187.8 802.5L1194.4 802.5M1189.8 822.7L1194.8 827.6M1189.1 836.7L1194.8 836.7M1189.1 848.2L1195.8 848.2M1192.0 871.0L1197.7 871.0M1192.8 893.9L1198.4 893.9M1193.6 905.5L1200.5 905.5M1196.6 951.2L1204.1 951.2M1200.4 973.7L1206.8 973.7M1201.9 984.9L1209.3 984.9M1205.4 993.9L1209.9 998.4M1208.0 1007.3L1214.2 1007.3M1213.2 994.7L1219.5 994.7M1216.3 983.6L1222.2 983.6M1220.8 949.4L1226.7 949.4M1222.7 935.8L1227.1 940.2M1223.1 926.5L1228.9 926.5M1224.0 915.1L1230.0 915.1M1229.5 869.5L1235.6 869.5M1232.1 856.2L1236.2 860.3M1232.1 846.7L1238.2 846.7M1233.2 824.2L1240.1 824.2M1234.6 813.0L1241.2 813.0M1235.5 801.3L1241.4 801.3M1237.4 778.4L1244.0 778.4M1237.0 767.0L1243.8 767.0M1238.9 755.4L1245.8 755.4M1239.4 732.5L1245.6 732.5M1241.9 709.5L1247.8 709.5M1242.2 697.9L1248.7 697.9M1242.2 686.3L1248.6 686.3M1242.2 674.7L1249.1 674.7M1244.4 651.3L1250.9 651.3M1244.9 637.1L1250.1 642.3M1245.4 628.1L1251.5 628.1M1245.6 616.6L1252.4 616.6M1249.8 568.7L1254.3 573.2M1249.2 559.6L1255.0 559.6M1248.8 548.1L1255.3 548.1M1252.0 522.6L1257.3 527.8M1252.0 502.2L1258.7 502.2M1253.2 488.8L1257.5 493.1M1252.6 479.5L1259.7 479.5M1254.0 456.8L1261.1 456.8M1255.0 445.1L1262.0 445.1M1256.1 433.8L1262.4 433.8M1256.6 422.3L1263.9 422.3M1265.7 402.4L1272.1 402.4M1267.5 385.6L1273.5 385.6M1272.4 375.1L1278.2 375.1M1276.1 364.6L1282.7 364.6M1289.2 353.8L1294.4 348.6M1298.4 337.6L1298.4 343.5M1294.8 335.6L1301.3 335.6M1296.5 327.4L1303.7 327.4M1300.5 319.9L1305.3 324.7M1309.2 325.1L1316.4 325.1M1315.4 311.5L1319.7 315.7M1321.7 323.5L1327.2 323.5M1323.3 329.5L1329.1 329.5M1330.5 324.2L1335.2 328.9M1337.9 330.3L1342.2 334.6M1352.4 356.3L1359.7 356.3M1364.4 350.1L1364.4 355.8M1370.6 344.1L1374.9 348.3M1372.0 343.5L1377.6 343.5M1374.7 335.6L1380.5 335.6M1373.1 330.1L1380.0 330.1M1387.9 313.9L1395.2 313.9M1392.3 315.8L1396.7 320.1M1395.4 311.2L1401.4 311.2M1404.9 297.5L1411.7 297.5M1409.0 274.3L1415.9 274.3M1426.5 252.4L1426.5 258.2M1428.0 256.9L1432.1 261.1M1433.4 242.5L1433.4 249.0M1432.2 246.8L1438.1 246.8M1434.7 235.7L1441.9 235.7M1438.8 224.5L1444.4 224.5M1446.7 219.7L1452.3 219.7M1449.2 205.9L1454.2 210.9M1458.8 210.0L1464.9 210.0M1467.4 192.4L1474.8 192.4M1471.5 178.8L1478.3 178.8M1473.8 174.4L1480.9 174.4M1479.7 163.1L1479.7 169.8M1479.3 163.5L1485.2 163.5M1487.6 147.2L1492.8 152.4M1497.3 144.5L1497.3 150.8M1498.3 136.8L1504.6 136.8M1504.6 137.5L1508.8 133.3M1512.1 117.8L1516.3 122.0M1526.9 109.1L1526.9 116.6M1530.5 103.9L1538.0 103.9M1542.9 110.5L1542.9 117.3M1541.8 97.1L1545.7 101.0M1558.9 92.4L1565.9 92.4M1567.2 86.2L1567.2 92.9M1581.1 84.0L1586.0 79.2M1606.2 62.8L1612.6 62.8M1612.1 61.3L1616.3 65.4M1618.0 66.7L1623.7 66.7M1624.7 50.5L1629.6 55.4M1629.9 74.9L1636.5 74.9M1633.9 54.4L1638.6 59.1M1648.9 54.3L1656.4 54.3M1656.1 53.5L1660.0 57.5M1664.6 60.8L1669.1 56.2M1676.6 60.1L1682.4 60.1M1683.6 56.2L1688.8 51.0M1697.0 58.6L1703.1 58.6M1699.8 68.9L1706.2 68.9M1708.3 66.3L1712.8 70.8M1723.2 52.6L1727.3 48.5M1729.6 61.2L1735.6 61.2M1735.1 58.4L1742.0 58.4M1748.4 53.5L1754.5 53.5M1754.4 56.1L1759.1 60.8M1756.8 44.9L1762.8 44.9M1773.0 61.2L1780.2 61.2M1784.3 60.4L1790.4 60.4M1802.9 56.8L1810.0 56.8M1820.0 43.5L1820.0 50.9M1835.3 49.6L1840.1 44.8M1840.6 59.9L1846.5 59.9M1850.5 65.9L1850.5 71.9M1858.5 47.1L1858.5 54.5M1865.2 55.2L1872.3 55.2M1887.8 68.1L1892.3 63.7M1895.8 47.3L1900.0 51.5M1898.5 54.2L1905.0 54.2" stroke="#000000" stroke-width="2.0" fill="none"/>
<path d="M1140.3 166.0L1146.5 166.0M1151.9 256.2L1158.0 256.2M1155.0 278.8L1160.9 278.8M1158.6 313.0L1165.5 313.0M1159.3 324.6L1166.0 324.6M1160.2 335.8L1167.2 335.8M1162.6 369.8L1169.9 369.8M1165.2 392.6L1172.4 392.6M1166.6 403.9L1172.6 403.9M1170.2 461.5L1175.9 461.5M1170.7 484.1L1176.5 484.1M1172.5 506.9L1178.0 506.9M1173.7 541.1L1179.6 541.1M1177.0 585.8L1184.2 585.8M1181.7 711.0L1189.2 711.0M1185.3 756.6L1192.0 756.6M1186.5 779.3L1192.5 779.3M1188.0 813.7L1194.7 813.7M1190.5 859.4L1197.6 859.4M1192.0 882.4L1198.0 882.4M1197.8 962.5L1203.9 962.5M1210.3 1005.9L1216.8 1005.9M1218.0 972.1L1224.3 972.1M1220.0 960.8L1226.4 960.8M1233.1 835.4L1239.6 835.4M1237.1 790.1L1242.9 790.1M1241.1 720.8L1247.1 720.8M1243.9 663.0L1251.2 663.0M1247.1 594.0L1253.8 594.0M1247.5 582.4L1253.1 582.4M1253.9 468.3L1261.4 468.3M1257.6 411.0L1263.3 411.0M1263.0 396.5L1269.0 396.5M1407.0 285.3L1412.8 285.3" stroke="#000000" stroke-width="2.6" fill="none"/>
<path d="M249.5 57.4L250.5 61.5M258.0 52.9L258.0 60.4M266.6 53.1L273.8 53.1M274.6 43.5L281.6 43.5M313.9 50.4L319.9 50.4M323.0 50.0L328.5 50.0M328.1 50.1L332.3 54.3M334.2 55.4L340.9 55.4M359.8 57.6L366.4 57.6M376.4 53.4L380.7 57.7M464.2 61.9L469.1 66.7M498.2 54.0L505.3 54.0M523.6 46.5L523.6 52.8M569.2 57.7L573.7 53.2M584.9 64.0L591.4 64.0M624.5 53.3L629.5 58.3M631.8 45.6L636.5 50.4M706.2 72.4L710.6 76.8M716.4 69.3L723.7 69.3M726.4 63.8L733.2 63.8M755.4 62.0L759.9 66.4M819.3 52.3L823.7 47.9M829.6 66.3L835.6 66.3M866.9 60.5L874.1 60.5M879.3 51.0L883.8 55.5M886.0 54.3L891.9 54.3M909.5 60.0L909.5 67.0M918.2 59.3L924.1 59.3M967.8 56.7L967.8 63.5M976.5 60.5L982.7 60.5M1004.8 51.1L1011.4 51.1M1032.8 57.2L1040.0 57.2M1058.4 48.8L1062.6 44.6M1067.9 43.5L1074.2 43.5M1418.6 261.3L1426.0 261.3M1452.7 209.9L1456.7 213.9M1460.9 198.7L1467.2 198.7M1471.8 175.6L1471.8 183.1M1481.8 159.1L1488.0 159.1M1506.2 120.2L1511.9 120.2M1516.0 122.7L1521.9 122.7M1571.0 69.3L1571.0 75.1M1584.0 74.8L1590.5 74.8M1596.5 64.8L1596.5 70.7M1601.5 60.6L1607.6 60.6M1687.0 56.7L1694.4 56.7M1715.5 59.9L1722.2 59.9M1738.4 60.7L1744.7 60.7M1782.1 57.0L1786.4 52.7M1797.6 59.9L1802.4 64.7M1809.0 58.9L1815.0 58.9M1832.7 64.9L1832.7 72.3M1860.4 54.6L1865.3 59.4" stroke="#000000" stroke-width="2.8" fill="none"/>
<path d="M261.9 43.5L261.9 50.2M278.7 57.4L285.3 57.4M315.5 47.8L320.0 52.3M319.8 53.7L324.0 57.9M350.6 46.6L356.6 46.6M359.9 55.8L367.1 55.8M378.0 57.8L382.7 62.5M413.8 47.4L418.1 51.7M419.0 53.1L424.9 53.1M431.8 52.5L436.7 57.5M477.4 48.3L484.0 48.3M490.3 61.5L494.9 56.9M504.0 50.5L509.0 45.5M510.3 43.5L515.1 48.3M555.3 63.0L560.3 67.9M564.8 59.5L570.6 59.5M580.1 44.3L580.1 49.9M639.9 75.8L644.3 71.4M652.4 69.7L652.4 76.9M663.2 69.2L668.0 74.1M689.2 94.1L694.9 94.1M709.6 95.4L717.1 95.4M717.6 97.3L722.0 92.8M727.0 98.1L734.5 98.1M741.0 99.6L741.0 105.8M785.5 127.1L790.6 122.0M805.3 112.3L809.4 108.2M822.1 97.7L826.9 102.6M997.4 55.0L1004.5 55.0M1015.9 67.4L1022.3 67.4M1023.7 49.7L1027.6 53.6M1032.1 55.4L1032.1 61.0M1098.0 57.6L1103.2 62.7M1209.9 1087.5L1215.5 1087.5M1313.9 332.9L1319.5 332.9M1335.5 354.0L1341.7 354.0M1372.6 367.2L1376.6 363.2M1419.7 289.8L1425.6 289.8M1422.6 291.0L1427.1 295.6M1431.3 273.1L1436.9 273.1M1446.4 228.0L1452.8 228.0M1484.4 174.3L1490.6 174.3M1495.9 172.4L1500.2 176.6M1528.7 130.8L1533.0 126.5M1548.4 108.4L1553.3 113.2M1557.1 115.0L1561.4 110.8M1601.0 91.8L1606.3 97.0M1609.8 92.3L1616.0 92.3M1717.9 74.7L1723.7 74.7M1725.5 59.0L1725.5 65.1M1738.4 69.6L1743.1 64.9M1745.7 61.8L1752.2 61.8M1761.5 52.3L1767.8 52.3M1769.8 74.2L1776.9 74.2M1790.1 58.0L1795.3 63.2M1864.9 67.8L1864.9 74.3M1880.9 61.1L1885.1 65.2" stroke="#ff0000" stroke-width="1.5" fill="none"/>
<path d="M1119.2 86.7L1124.7 86.7M1138.8 140.2L1145.8 140.2M1144.8 162.3L1150.8 162.3M1147.1 173.5L1152.7 173.5M1155.8 229.6L1162.6 229.6M1166.6 319.5L1173.2 319.5M1169.5 342.1L1175.2 342.1M1170.0 353.3L1177.3 353.3M1172.1 376.0L1178.5 376.0M1174.1 409.8L1179.8 409.8M1176.1 455.7L1183.2 455.7M1177.3 467.3L1184.6 467.3M1179.8 501.7L1185.5 501.7M1184.5 605.3L1191.3 605.3M1185.9 628.1L1192.9 628.1M1187.6 650.9L1194.1 650.9M1189.3 685.0L1196.6 685.0M1191.6 719.2L1198.5 719.2M1197.2 833.5L1203.5 833.5M1198.7 856.3L1204.4 856.3M1200.3 879.4L1205.9 879.4M1201.1 914.0L1208.2 914.0M1201.6 948.1L1208.9 948.1M1207.6 1017.2L1214.4 1017.2M1211.3 1051.2L1218.2 1051.2M1232.9 921.7L1240.1 921.7M1236.3 864.2L1241.9 864.2M1239.3 807.1L1246.2 807.1M1241.0 784.0L1248.4 784.0M1241.5 772.5L1248.1 772.5M1243.0 749.5L1249.8 749.5M1245.3 715.0L1252.3 715.0M1246.1 703.5L1253.4 703.5M1250.8 610.6L1257.2 610.6M1254.1 541.8L1260.4 541.8M1256.1 495.6L1262.8 495.6M1257.6 484.2L1264.1 484.2M1259.0 461.2L1265.1 461.2M1259.8 449.5L1267.1 449.5M1268.9 404.5L1275.6 404.5M1272.8 393.8L1279.4 393.8M1401.2 322.8L1407.1 322.8" stroke="#ff0000" stroke-width="1.6" fill="none"/>
<path d="M249.5 66.0L253.2 66.0M271.3 50.5L277.5 50.5M283.3 44.4L290.5 44.4M297.2 52.7L302.4 47.6M301.9 59.0L309.2 59.0M306.3 52.8L313.6 52.8M325.7 43.5L330.8 48.6M326.3 59.4L333.2 59.4M335.9 62.3L343.1 62.3M339.2 54.7L344.0 59.5M348.5 46.9L354.1 46.9M367.9 55.4L372.4 50.9M384.0 47.0L391.0 47.0M390.4 63.5L394.5 67.6M426.9 49.0L426.9 54.9M438.0 51.1L444.7 51.1M452.7 49.4L452.7 56.3M454.6 47.4L460.6 47.4M465.2 54.6L465.2 60.3M467.3 57.2L473.3 57.2M475.7 51.8L475.7 59.3M482.8 53.9L490.3 53.9M501.9 59.5L506.8 54.6M515.6 57.9L519.7 62.1M521.6 66.3L526.6 61.3M541.8 44.0L541.8 50.7M549.6 53.2L554.5 48.3M563.2 43.5L563.2 50.0M571.6 50.6L578.6 50.6M584.3 64.0L591.7 64.0M589.9 53.1L589.9 60.6M597.8 64.2L603.5 64.2M603.0 64.0L609.7 64.0M610.3 53.0L615.3 58.0M615.4 63.7L621.7 63.7M621.3 62.8L627.0 62.8M627.7 57.4L632.1 61.8M632.2 57.4L636.4 61.6M654.8 68.9L660.1 74.2M665.8 86.7L671.5 86.7M674.9 80.5L674.9 87.2M679.1 72.4L685.9 72.4M687.3 79.1L692.9 79.1M697.4 95.3L701.9 90.8M702.8 88.1L708.8 88.1M706.9 95.5L711.5 100.1M723.4 95.9L727.8 100.3M737.4 103.7L737.4 109.9M752.9 106.4L752.9 113.4M757.4 102.4L761.9 97.8M766.7 116.3L766.7 122.0M770.7 114.1L775.3 109.4M774.7 122.5L781.1 122.5M793.1 113.8L797.0 109.9M800.2 112.4L807.2 112.4M811.9 97.3L815.9 101.3M822.4 111.5L822.4 118.6M828.6 101.2L833.3 96.5M833.3 98.6L838.1 103.4M841.1 96.9L847.6 96.9M849.2 96.2L853.7 91.7M855.2 74.0L860.8 74.0M865.8 73.9L870.8 68.9M876.0 79.8L881.0 74.8M888.6 76.5L892.5 80.4M895.2 52.5L899.7 57.0M900.5 73.0L907.1 73.0M905.3 74.4L910.4 69.2M911.0 58.3L918.2 58.3M922.5 62.7L928.9 62.7M929.7 61.7L936.3 61.7M936.1 51.0L936.1 58.2M941.2 61.1L947.0 61.1M945.6 50.3L949.6 54.3M949.4 67.6L953.8 63.1M960.0 60.2L964.3 64.5M967.9 48.5L967.9 54.3M977.4 55.7L984.1 55.7M981.9 57.4L988.1 57.4M1007.0 57.0L1007.0 62.6M1008.7 59.1L1013.5 54.3M1039.9 54.4L1044.3 58.8M1044.8 54.0L1049.8 49.0M1055.5 54.8L1055.5 62.2M1056.2 48.2L1060.6 52.5M1061.8 56.7L1065.9 52.6M1067.0 54.1L1072.1 59.1M1072.2 61.4L1077.5 56.1M1074.0 45.0L1081.0 45.0M1081.1 58.8L1087.9 58.8M1086.3 48.4L1091.2 43.5M1103.5 80.6L1108.2 75.9M1105.6 73.8L1112.4 73.8M1111.7 91.1L1116.7 86.1M1132.5 115.9L1137.6 121.0M1142.7 151.1L1149.4 151.1M1150.7 195.8L1157.3 195.8M1159.5 252.2L1165.4 252.2M1160.5 263.6L1167.2 263.6M1162.1 274.7L1168.1 274.7M1164.4 283.2L1169.7 288.5M1165.1 297.1L1171.5 297.1M1170.9 364.8L1176.7 364.8M1172.7 387.3L1179.9 387.3M1173.6 398.6L1179.4 398.6M1176.4 418.7L1181.6 423.9M1175.8 433.0L1182.5 433.0M1175.8 444.4L1183.0 444.4M1178.1 490.4L1184.8 490.4M1180.0 524.6L1186.7 524.6M1179.6 536.0L1187.0 536.0M1182.3 556.7L1187.5 561.9M1184.1 593.6L1191.1 593.6M1185.4 616.6L1192.0 616.6M1186.2 639.5L1192.3 639.5M1190.3 696.3L1195.9 696.3M1191.5 730.8L1197.9 730.8M1193.5 753.7L1199.1 753.7M1193.1 765.1L1200.4 765.1M1193.6 776.3L1200.0 776.3M1195.0 787.5L1202.3 787.5M1196.5 797.0L1200.7 801.3M1196.9 822.1L1203.1 822.1M1198.9 867.8L1204.8 867.8M1198.9 891.0L1206.1 891.0M1201.8 900.1L1206.6 905.0M1202.4 923.2L1206.3 927.2M1203.4 959.4L1209.9 959.4M1204.1 971.1L1211.3 971.1M1206.3 994.5L1212.0 994.5M1207.0 1005.6L1214.0 1005.6M1209.0 1028.4L1215.3 1028.4M1211.8 1063.0L1219.2 1063.0M1215.8 1093.4L1220.3 1088.9M1217.9 1080.3L1225.1 1080.3M1222.1 1081.6L1229.3 1081.6M1224.3 1058.9L1231.2 1058.9M1227.4 1034.3L1231.7 1038.6M1227.7 1013.3L1233.8 1013.3M1228.9 990.5L1234.7 990.5M1229.4 979.1L1235.8 979.1M1229.8 967.6L1236.5 967.6M1231.4 956.3L1237.9 956.3M1231.8 933.2L1238.9 933.2M1235.0 908.4L1239.0 912.4M1232.8 899.0L1240.3 899.0M1234.6 887.4L1241.5 887.4M1235.1 875.8L1242.2 875.8M1236.8 852.8L1242.5 852.8M1238.4 839.5L1242.5 843.7M1237.2 830.1L1243.9 830.1M1238.5 818.6L1244.3 818.6M1244.0 738.0L1249.9 738.0M1247.0 689.6L1251.6 694.2M1249.9 654.5L1254.6 659.3M1248.6 645.2L1255.0 645.2M1249.6 633.6L1256.3 633.6M1250.0 622.1L1255.9 622.1M1251.7 599.3L1257.6 599.3M1252.1 587.7L1258.5 587.7M1253.4 574.1L1257.9 578.5M1252.3 565.0L1259.3 565.0M1254.4 553.4L1260.1 553.4M1255.5 530.2L1261.1 530.2M1255.9 507.2L1263.0 507.2M1262.6 426.5L1269.1 426.5M1264.9 415.3L1272.1 415.3M1281.1 372.4L1286.7 372.4M1287.3 366.2L1287.3 373.2M1290.0 347.5L1294.6 352.0M1294.4 340.6L1298.6 344.7M1299.5 344.8L1303.6 340.7M1303.9 343.4L1308.5 338.8M1320.8 343.2L1325.0 347.4M1324.0 351.4L1330.5 351.4M1327.6 352.5L1334.8 352.5M1336.6 350.4L1336.6 356.2M1340.2 360.5L1346.2 360.5M1348.0 363.7L1348.0 371.1M1349.1 369.2L1354.9 369.2M1362.4 362.6L1362.4 369.4M1366.8 367.3L1371.1 371.6M1378.9 359.0L1383.1 363.2M1385.7 349.7L1390.0 345.4M1393.5 336.7L1397.7 332.6M1395.5 333.1L1400.3 328.3M1396.5 333.7L1403.4 333.7M1405.8 311.7L1412.7 311.7M1409.4 297.4L1415.7 297.4M1411.5 303.1L1418.2 303.1M1417.2 295.3L1421.9 290.7M1427.4 285.1L1431.5 281.0M1428.0 273.8L1433.7 273.8M1438.0 261.5L1442.3 257.2M1436.7 253.3L1442.6 253.3M1442.7 244.9L1449.3 244.9M1453.2 231.7L1457.5 236.0M1458.1 221.6L1458.1 228.0M1458.1 222.5L1463.3 217.2M1467.1 218.7L1471.6 214.2M1468.5 201.4L1473.8 206.7M1472.7 204.9L1479.9 204.9M1474.5 201.0L1480.4 201.0M1477.4 202.7L1483.1 202.7M1482.2 189.4L1487.5 194.6M1501.3 157.3L1506.9 157.3M1506.1 161.3L1510.5 156.9M1514.6 148.2L1520.4 148.2M1515.4 153.6L1520.5 148.5M1528.4 117.6L1534.7 117.6M1536.0 116.8L1540.4 121.2M1538.8 113.4L1545.9 113.4M1545.7 108.5L1551.2 108.5M1561.4 96.2L1568.9 96.2M1567.7 97.7L1572.4 93.0M1573.8 88.5L1578.0 92.7M1575.5 100.1L1582.2 100.1M1582.8 89.8L1587.1 94.2M1590.0 92.2L1596.5 92.2M1596.9 83.0L1600.9 79.0M1610.3 77.5L1610.3 83.1M1616.2 75.2L1621.0 79.9M1622.8 80.0L1622.8 86.2M1627.7 71.0L1627.7 77.5M1633.0 70.9L1637.5 75.3M1641.5 72.5L1645.5 76.5M1648.8 71.3L1653.5 66.6M1659.1 79.5L1659.1 85.0M1659.4 62.7L1666.6 62.7M1672.1 58.8L1672.1 66.1M1680.0 60.7L1680.0 67.8M1681.6 66.1L1686.5 61.2M1688.5 71.1L1692.8 75.4M1695.0 70.6L1700.7 70.6M1701.1 52.7L1706.9 52.7M1707.3 71.1L1711.2 67.1M1710.7 55.1L1717.9 55.1M1733.3 54.9L1740.7 54.9M1750.6 62.2L1755.3 57.5M1757.5 58.1L1763.5 58.1M1765.0 55.8L1772.2 55.8M1778.9 58.5L1786.3 58.5M1793.1 57.7L1798.2 62.8M1801.2 48.0L1807.8 48.0M1815.7 52.3L1821.2 52.3M1821.5 51.5L1827.5 51.5M1827.7 71.7L1833.8 71.7M1840.6 49.5L1845.7 54.6M1848.7 65.6L1854.9 65.6M1854.5 59.0L1859.5 64.0M1872.7 61.1L1879.1 61.1M1888.5 54.6L1892.8 50.3M1897.8 65.1L1902.5 60.4M1906.9 50.3L1910.5 54.8" stroke="#ff0000" stroke-width="2.0" fill="none"/>
<path d="M1124.3 97.3L1130.2 97.3M1128.4 107.9L1134.6 107.9M1135.9 129.1L1142.4 129.1M1147.9 184.6L1154.9 184.6M1151.8 206.9L1158.1 206.9M1153.7 218.4L1160.4 218.4M1156.6 241.0L1162.4 241.0M1165.6 308.3L1172.7 308.3M1167.3 330.9L1174.7 330.9M1177.7 478.8L1184.2 478.8M1180.1 513.0L1185.7 513.0M1181.2 547.7L1187.7 547.7M1182.2 570.5L1189.1 570.5M1182.5 582.2L1189.6 582.2M1188.5 662.3L1195.1 662.3M1189.2 673.5L1195.2 673.5M1190.9 707.6L1197.9 707.6M1193.4 742.1L1199.2 742.1M1196.1 810.8L1202.1 810.8M1198.7 845.0L1204.2 845.0M1201.8 936.6L1207.6 936.6M1204.9 982.7L1212.1 982.7M1209.9 1039.9L1215.9 1039.9M1215.2 1074.4L1220.9 1074.4M1224.0 1070.6L1230.1 1070.6M1225.2 1047.7L1231.8 1047.7M1227.5 1024.9L1234.3 1024.9M1228.3 1001.9L1234.4 1001.9M1231.2 944.8L1238.4 944.8M1240.4 795.6L1247.3 795.6M1242.0 761.0L1248.3 761.0M1245.0 726.5L1251.8 726.5M1247.7 680.2L1254.6 680.2M1247.3 668.6L1253.8 668.6M1255.7 518.8L1261.8 518.8M1258.2 472.7L1265.3 472.7M1261.4 437.9L1267.2 437.9M1276.9 383.0L1284.1 383.0M1438.9 256.0L1445.6 256.0" stroke="#ff0000" stroke-width="2.6" fill="none"/>
<path d="M251.3 56.5L256.9 56.5M262.4 49.6L269.6 49.6M276.6 43.5L283.7 43.5M290.5 55.6L294.8 59.9M357.1 52.4L363.3 52.4M373.0 43.7L378.6 43.7M399.0 54.3L403.9 49.4M403.9 56.1L408.3 60.5M407.6 61.3L412.0 65.7M441.1 53.1L448.5 53.1M498.0 51.4L498.0 57.8M530.4 58.6L534.6 54.4M532.5 49.8L539.9 49.8M547.5 60.9L547.5 66.7M596.5 48.5L596.5 55.9M645.7 75.3L650.5 80.1M744.5 94.8L750.6 94.8M782.2 116.0L787.4 110.8M794.6 111.4L800.5 111.4M839.7 92.5L844.5 97.3M853.9 85.4L853.9 90.9M859.8 72.8L865.7 72.8M871.2 80.0L876.9 80.0M882.1 62.6L886.9 57.8M918.7 58.4L918.7 64.4M955.6 54.1L959.7 49.9M968.4 46.0L975.6 46.0M991.9 58.9L996.1 54.7M1032.9 56.4L1037.7 61.2M1092.3 67.1L1096.6 62.8M1102.6 75.6L1106.5 71.7M1291.5 346.3L1296.3 351.1M1310.0 334.4L1315.5 334.4M1351.4 370.3L1356.1 365.6M1381.2 362.2L1387.3 362.2M1390.7 338.3L1397.4 338.3M1463.9 207.9L1463.9 213.8M1490.6 176.5L1494.7 172.4M1491.8 168.1L1498.9 168.1M1496.9 173.3L1503.7 173.3M1508.4 157.6L1515.0 157.6M1523.2 137.2L1528.4 142.5M1557.6 104.1L1564.2 104.1M1644.7 73.6L1650.8 73.6M1671.7 79.0L1675.6 82.9M1730.1 75.9L1734.5 71.6M1783.4 66.4L1789.2 66.4M1808.9 58.2L1813.9 53.3M1832.9 62.8L1838.9 62.8M1867.9 57.1L1872.2 61.5M1893.2 55.9L1893.2 61.8M1903.0 59.9L1903.0 66.3" stroke="#ff0000" stroke-width="2.8" fill="none"/>
<path d="M257.2 51.0L263.8 51.0M315.9 49.1L323.1 49.1M365.7 50.9L369.7 46.9M419.0 62.6L426.1 62.6M443.6 51.6L450.9 51.6M525.5 45.1L531.6 45.1M541.1 43.5L545.6 48.1M559.0 57.4L565.8 57.4M589.2 56.5L596.0 56.5M633.7 51.8L640.3 51.8M697.2 61.1L704.0 61.1M709.2 69.5L715.1 69.5M754.2 64.4L761.7 64.4M786.4 49.8L790.8 54.3M804.9 57.5L810.4 57.5M848.3 62.1L853.9 62.1M864.1 61.5L868.1 57.5M886.4 50.5L892.0 50.5M899.1 46.0L899.1 52.2M934.7 59.0L934.7 65.0M978.6 50.0L983.2 45.4M988.5 53.8L995.1 53.8M1024.5 50.9L1031.6 50.9M1040.4 52.7L1045.9 52.7M1091.0 55.0L1096.3 60.3M1118.5 84.2L1123.0 88.7M1286.9 382.8L1292.8 382.8M1315.9 360.4L1323.0 360.4M1334.7 365.4L1339.1 369.8M1380.9 362.8L1385.3 367.2M1434.0 282.6L1438.4 287.0M1503.7 172.2L1508.3 176.8M1528.9 136.3L1528.9 142.2M1545.1 127.2L1549.4 122.9M1549.6 118.8L1554.0 123.2M1568.6 104.0L1573.6 99.0M1579.0 104.6L1586.3 104.6M1586.7 101.4L1591.8 106.4M1642.0 78.6L1642.0 86.0M1664.5 71.1L1670.2 71.1M1687.2 72.8L1692.0 77.6M1693.5 80.5L1697.5 76.5M1711.0 69.3L1716.7 69.3M1788.8 52.9L1788.8 59.0M1805.1 61.0L1809.5 65.4M1861.4 68.6L1865.5 64.5M1900.5 59.3L1905.3 54.6" stroke="#00ff00" stroke-width="1.5" fill="none"/>
<path d="M1133.1 118.6L1138.6 118.6M1135.5 129.7L1142.3 129.7M1162.2 321.9L1169.2 321.9M1167.3 367.7L1173.2 367.7M1167.9 379.0L1174.1 379.0M1170.4 424.4L1177.5 424.4M1174.4 481.7L1180.7 481.7M1174.3 504.6L1181.6 504.6M1176.5 550.4L1183.6 550.4M1180.2 584.7L1186.3 584.7M1180.4 618.7L1187.8 618.7M1187.7 744.6L1194.7 744.6M1195.3 893.6L1201.5 893.6M1197.1 905.2L1202.9 905.2M1206.0 1041.6L1213.3 1041.6M1209.1 1064.3L1215.6 1064.3M1211.1 1098.1L1217.3 1098.1M1213.9 1131.9L1220.4 1131.9M1219.4 1133.7L1224.9 1133.7M1221.4 1110.5L1227.9 1110.5M1224.7 1075.9L1231.3 1075.9M1228.0 1030.3L1234.8 1030.3M1228.4 1007.5L1234.5 1007.5M1236.0 881.6L1241.5 881.6M1242.1 766.5L1248.9 766.5M1245.5 720.5L1252.5 720.5M1249.2 650.8L1256.0 650.8M1255.7 524.2L1262.9 524.2M1257.3 501.6L1263.3 501.6M1258.2 478.9L1264.7 478.9M1258.6 467.6L1264.9 467.6M1270.1 411.8L1276.3 411.8M1279.8 386.2L1287.1 386.2M1406.5 332.2L1412.9 332.2M1438.2 279.1L1444.6 279.1" stroke="#00ff00" stroke-width="1.6" fill="none"/>
<path d="M249.6 51.5L249.6 58.8M266.6 65.0L271.6 60.0M268.7 43.7L276.2 43.7M280.1 49.6L286.3 49.6M285.5 49.6L290.2 44.9M297.8 55.6L304.1 55.6M302.9 56.3L307.4 51.8M311.0 44.9L314.9 48.8M322.6 48.6L327.7 43.5M328.0 48.6L333.1 43.5M336.1 43.5L336.1 50.9M340.3 56.6L347.7 56.6M345.3 57.0L352.1 57.0M350.0 64.9L355.2 59.7M358.7 43.8L363.6 48.7M373.3 65.9L380.6 65.9M378.4 63.3L383.9 63.3M384.0 47.0L390.2 47.0M393.6 63.7L399.1 63.7M397.9 50.8L404.1 50.8M406.9 50.5L412.0 55.6M413.1 48.3L418.9 48.3M427.3 46.2L434.3 46.2M434.0 48.2L439.7 48.2M438.0 58.8L444.0 58.8M450.8 48.6L455.9 43.5M460.5 64.4L466.2 64.4M465.6 49.8L471.4 49.8M478.5 43.7L478.5 50.2M482.2 57.4L487.2 62.4M495.7 43.5L501.2 43.5M499.8 48.7L505.0 43.5M512.8 60.6L518.4 60.6M536.3 54.0L542.8 54.0M548.3 67.7L554.6 67.7M551.7 54.3L556.3 49.8M564.8 51.1L569.1 55.4M569.8 54.1L575.6 54.1M591.3 50.7L597.1 50.7M614.2 61.1L614.2 67.9M616.4 47.0L623.5 47.0M621.8 57.5L628.0 57.5M625.9 57.6L631.8 57.6M642.0 63.2L648.1 63.2M650.3 68.8L656.9 68.8M654.7 57.2L660.9 57.2M666.3 62.7L672.3 62.7M685.5 78.7L689.6 82.8M694.5 72.6L694.5 79.2M703.4 59.1L707.7 63.4M717.1 61.9L723.0 61.9M723.4 57.9L730.3 57.9M728.3 66.6L735.1 66.6M738.2 64.2L738.2 69.8M743.0 62.1L743.0 68.3M751.0 72.6L754.9 68.7M759.1 79.6L763.8 74.8M767.0 51.6L773.2 51.6M772.0 66.2L776.0 62.2M780.3 73.7L784.8 69.2M790.9 68.2L795.1 64.0M798.2 67.9L802.6 72.3M807.8 60.4L812.3 65.0M811.4 61.5L818.7 61.5M816.8 57.1L822.9 57.1M823.8 55.3L827.7 51.4M834.6 48.3L839.3 43.5M842.3 71.2L849.4 71.2M853.5 63.9L860.2 63.9M857.5 55.9L863.8 55.9M877.4 66.2L882.3 61.3M882.2 51.9L887.7 51.9M891.7 51.4L895.7 55.4M905.7 47.7L912.9 47.7M910.9 50.3L918.2 50.3M916.3 58.7L922.3 58.7M927.2 63.5L932.1 68.5M939.8 60.6L939.8 67.5M940.5 56.1L944.8 51.8M948.4 46.8L955.4 46.8M957.6 54.6L957.6 61.6M957.7 51.6L962.4 56.3M968.3 63.3L972.5 59.1M981.8 49.4L987.1 54.6M993.1 62.1L999.4 62.1M1000.2 65.5L1004.9 60.8M1014.1 55.4L1020.4 55.4M1018.4 55.0L1025.0 55.0M1031.2 43.5L1038.0 43.5M1051.3 51.2L1056.0 55.8M1060.4 47.9L1064.7 43.7M1067.6 55.1L1067.6 62.5M1069.3 64.1L1075.3 64.1M1074.9 64.2L1080.0 69.3M1086.9 64.7L1090.9 60.7M1101.0 56.9L1105.4 61.3M1104.4 76.9L1109.0 72.3M1106.0 77.6L1112.5 77.6M1116.2 91.9L1120.8 87.3M1128.7 105.7L1133.0 110.0M1140.8 138.9L1144.9 143.1M1144.7 163.4L1150.4 163.4M1147.4 185.8L1153.2 185.8M1149.0 208.5L1155.5 208.5M1151.0 219.6L1156.9 219.6M1152.2 231.0L1159.6 231.0M1154.6 242.3L1160.7 242.3M1156.4 264.9L1163.4 264.9M1159.8 276.1L1165.3 276.1M1161.5 299.4L1167.2 299.4M1163.8 308.3L1168.3 312.9M1164.7 333.4L1170.5 333.4M1164.9 344.7L1171.8 344.7M1166.3 356.0L1172.8 356.0M1168.6 390.4L1175.0 390.4M1169.6 401.7L1175.2 401.7M1170.4 413.0L1176.3 413.0M1175.9 527.7L1183.1 527.7M1176.8 539.2L1183.8 539.2M1180.3 596.2L1187.5 596.2M1181.0 607.4L1187.2 607.4M1182.3 630.1L1188.1 630.1M1184.0 653.0L1189.9 653.0M1183.9 664.3L1190.4 664.3M1184.4 676.0L1191.4 676.0M1186.2 687.5L1192.7 687.5M1187.4 710.6L1194.0 710.6M1187.2 721.9L1193.5 721.9M1188.2 733.4L1193.9 733.4M1188.9 756.2L1195.3 756.2M1190.7 778.8L1197.2 778.8M1191.5 790.4L1197.9 790.4M1191.8 813.3L1198.4 813.3M1193.4 847.6L1199.7 847.6M1194.8 858.9L1200.5 858.9M1195.4 870.4L1201.8 870.4M1196.1 882.0L1201.9 882.0M1196.0 916.6L1203.3 916.6M1199.9 937.5L1204.1 941.6M1198.5 950.9L1204.8 950.9M1199.6 973.6L1205.9 973.6M1200.7 984.7L1208.0 984.7M1203.8 1018.8L1210.1 1018.8M1205.3 1030.4L1211.0 1030.4M1208.3 1053.1L1214.8 1053.1M1210.8 1084.7L1215.3 1089.2M1212.7 1109.7L1218.6 1109.7M1213.7 1120.8L1219.8 1120.8M1215.8 1143.0L1223.1 1143.0M1221.0 1122.1L1226.8 1122.1M1222.2 1099.1L1229.5 1099.1M1224.7 1087.4L1230.4 1087.4M1226.3 1064.7L1231.9 1064.7M1226.2 1053.3L1233.5 1053.3M1226.4 1041.7L1233.8 1041.7M1229.0 1018.8L1234.8 1018.8M1229.4 996.0L1235.2 996.0M1230.5 973.0L1237.8 973.0M1231.3 961.6L1237.0 961.6M1232.4 939.1L1239.2 939.1M1233.1 916.1L1239.0 916.1M1235.4 902.3L1240.3 907.2M1234.9 893.2L1241.1 893.2M1236.3 870.0L1242.0 870.0M1237.6 858.5L1243.5 858.5M1238.2 844.7L1243.1 849.6M1238.4 835.6L1244.2 835.6M1237.9 824.1L1244.5 824.1M1238.6 812.6L1245.8 812.6M1240.7 801.1L1246.8 801.1M1240.6 789.6L1247.7 789.6M1242.1 778.0L1249.2 778.0M1243.5 755.0L1250.6 755.0M1245.1 732.0L1251.5 732.0M1246.0 697.4L1253.5 697.4M1248.6 685.8L1254.3 685.8M1248.8 672.0L1253.1 676.3M1249.4 639.2L1255.4 639.2M1251.0 616.1L1256.7 616.1M1252.1 593.5L1258.3 593.5M1252.2 581.9L1259.2 581.9M1253.9 558.9L1259.7 558.9M1255.2 547.3L1260.9 547.3M1256.3 512.9L1262.6 512.9M1259.8 456.2L1266.2 456.2M1261.6 444.7L1268.7 444.7M1263.8 433.6L1269.9 433.6M1267.1 420.5L1271.4 424.8M1276.2 396.5L1282.4 396.5M1291.5 373.8L1295.5 369.8M1292.4 364.6L1296.4 360.6M1296.6 344.9L1301.6 349.9M1310.1 354.1L1314.8 349.4M1314.1 359.3L1319.9 359.3M1322.5 358.7L1328.2 358.7M1328.9 365.8L1333.6 361.1M1337.9 372.6L1343.5 372.6M1343.7 371.8L1347.9 367.6M1357.8 381.4L1362.1 385.7M1359.6 375.4L1366.1 375.4M1366.2 373.2L1373.6 373.2M1370.1 374.9L1375.6 374.9M1378.5 371.8L1382.7 376.0M1389.4 368.1L1393.3 364.1M1390.6 358.9L1397.0 358.9M1395.8 351.3L1401.7 351.3M1404.4 348.5L1404.4 355.7M1403.0 342.8L1408.5 342.8M1414.9 317.8L1414.9 323.3M1421.1 308.8L1421.1 315.2M1420.2 311.7L1426.9 311.7M1432.2 294.5L1432.2 301.7M1429.7 299.8L1433.9 295.5M1445.4 257.5L1451.5 257.5M1449.1 246.6L1456.3 246.6M1453.6 231.0L1458.7 236.1M1458.1 228.3L1464.9 228.3M1464.7 226.9L1470.3 226.9M1472.9 217.6L1479.9 217.6M1476.4 211.9L1482.5 211.9M1479.5 198.8L1485.2 198.8M1483.0 197.8L1488.1 192.7M1484.8 198.7L1491.9 198.7M1491.7 196.9L1496.0 192.6M1496.7 178.6L1504.1 178.6M1499.5 169.9L1505.8 169.9M1513.0 152.8L1517.6 148.2M1518.2 154.8L1522.7 150.4M1528.5 138.3L1533.7 133.1M1535.3 129.4L1541.3 129.4M1541.0 131.6L1545.5 136.1M1563.3 122.9L1569.9 122.9M1602.9 85.6L1602.9 91.3M1607.4 83.7L1611.9 88.1M1610.1 101.9L1614.8 97.2M1615.8 91.9L1620.9 86.8M1620.3 83.4L1624.3 79.4M1634.5 73.5L1640.5 73.5M1642.0 81.0L1646.4 85.4M1648.2 83.0L1653.8 83.0M1650.9 64.9L1658.0 64.9M1659.3 68.9L1664.3 63.8M1671.2 81.7L1676.2 76.7M1676.5 71.3L1676.5 77.7M1699.2 71.2L1705.7 71.2M1705.4 65.4L1712.3 65.4M1715.5 65.9L1723.0 65.9M1727.0 69.5L1732.0 64.4M1736.8 55.9L1736.8 62.2M1738.8 67.5L1744.5 67.5M1749.6 65.6L1749.6 72.0M1761.5 67.4L1768.7 67.4M1771.1 54.6L1771.1 61.3M1770.9 70.3L1776.8 70.3M1778.7 62.0L1784.6 62.0M1790.3 69.6L1795.1 64.8M1796.5 63.7L1803.1 63.7M1810.4 59.2L1817.4 59.2M1820.2 53.5L1820.2 60.0M1820.3 73.8L1827.8 73.8M1838.3 63.4L1845.4 63.4M1843.1 58.9L1849.7 58.9M1849.7 52.2L1853.7 56.2M1853.8 56.6L1858.6 61.4M1865.7 63.8L1872.0 63.8M1870.8 56.1L1876.5 56.1M1877.3 61.6L1881.9 66.1M1882.5 62.0L1888.7 62.0M1885.4 55.7L1891.6 55.7M1894.5 63.0L1900.9 63.0M1903.8 48.5L1910.5 48.5" stroke="#00ff00" stroke-width="2.0" fill="none"/>
<path d="M1141.1 152.0L1147.1 152.0M1145.9 174.6L1152.6 174.6M1148.7 197.3L1154.7 197.3M1155.7 253.6L1162.9 253.6M1159.7 287.6L1166.0 287.6M1172.9 436.0L1179.0 436.0M1172.4 447.4L1179.5 447.4M1173.2 458.6L1179.6 458.6M1173.2 470.2L1180.3 470.2M1175.0 493.4L1181.0 493.4M1175.5 516.0L1182.2 516.0M1177.6 562.1L1184.8 562.1M1179.2 573.4L1185.4 573.4M1182.2 641.6L1189.3 641.6M1187.2 699.1L1192.9 699.1M1189.4 767.5L1195.8 767.5M1192.3 802.1L1198.2 802.1M1192.3 824.6L1198.9 824.6M1193.2 836.0L1199.6 836.0M1197.6 928.2L1204.0 928.2M1198.8 962.1L1205.3 962.1M1201.6 996.3L1209.1 996.3M1203.2 1007.6L1210.4 1007.6M1210.3 1075.6L1216.1 1075.6M1217.2 1145.2L1222.7 1145.2M1229.5 984.4L1236.0 984.4M1231.4 950.4L1238.0 950.4M1233.1 927.8L1238.6 927.8M1244.2 743.5L1250.3 743.5M1246.7 709.0L1253.7 709.0M1249.0 662.5L1255.2 662.5M1250.5 627.6L1256.5 627.6M1251.3 604.7L1258.1 604.7M1252.7 570.4L1259.7 570.4M1255.2 535.7L1262.6 535.7M1256.6 490.3L1263.9 490.3M1442.1 268.6L1449.2 268.6" stroke="#00ff00" stroke-width="2.6" fill="none"/>
<path d="M256.7 45.1L256.7 51.3M289.6 52.5L296.8 52.5M370.3 55.4L370.3 62.4M409.7 47.9L416.8 47.9M454.9 53.4L461.3 53.4M469.5 63.9L476.6 63.9M489.0 48.8L495.5 48.8M507.7 56.2L514.4 56.2M522.4 55.4L527.7 50.1M531.1 49.9L538.3 49.9M577.7 43.5L581.8 47.6M580.1 61.8L587.1 61.8M598.8 47.2L603.7 52.1M604.3 63.0L609.9 63.0M644.8 66.3L648.7 70.2M661.7 77.7L667.7 77.7M673.6 64.8L673.6 71.5M682.2 61.6L682.2 68.8M778.3 67.0L778.3 74.3M830.8 71.6L837.8 71.6M867.0 56.6L874.1 56.6M918.9 72.7L923.9 67.7M970.9 52.7L976.9 52.7M1009.6 57.7L1009.6 63.4M1043.7 55.3L1050.4 55.3M1078.0 62.4L1084.4 62.4M1091.3 48.2L1095.9 43.5M1094.8 71.9L1100.3 71.9M1110.8 75.2L1116.9 75.2M1121.9 96.9L1121.9 102.9M1122.7 93.0L1129.3 93.0M1276.2 400.2L1281.4 405.4M1300.9 350.7L1305.7 345.9M1302.7 354.4L1307.8 349.4M1348.2 378.9L1352.7 374.4M1409.1 329.8L1413.7 325.3M1424.6 308.3L1428.7 304.1M1436.1 285.8L1440.2 281.8M1463.6 228.7L1469.6 228.7M1470.6 212.3L1470.6 218.5M1494.3 174.3L1494.3 180.7M1505.9 165.6L1512.7 165.6M1513.4 163.8L1513.4 169.6M1520.8 151.5L1525.7 156.4M1532.7 133.1L1539.1 133.1M1556.2 122.9L1560.3 127.1M1560.5 104.7L1567.8 104.7M1576.7 109.2L1581.9 114.4M1591.1 90.6L1596.8 90.6M1629.2 88.4L1633.4 92.6M1681.1 73.1L1685.8 77.9M1722.5 62.4L1728.4 62.4M1752.7 63.5L1760.1 63.5M1758.7 53.1L1765.0 53.1M1828.1 59.4L1835.4 59.4M1834.9 51.5L1841.8 51.5" stroke="#00ff00" stroke-width="2.8" fill="none"/>
<path d="M249.5 55.6L249.9 55.6M259.2 43.5L266.7 43.5M315.9 62.4L322.7 62.4M334.1 52.6L341.2 52.6M388.3 54.0L392.3 58.0M463.2 58.1L463.2 64.5M465.0 54.6L470.1 59.6M471.0 56.8L475.5 52.3M477.3 58.5L482.9 58.5M560.1 56.2L566.1 56.2M602.6 65.7L608.5 65.7M623.7 57.6L628.3 62.2M641.6 69.6L648.4 69.6M643.7 65.8L649.9 65.8M660.8 68.2L666.0 63.1M678.1 69.6L683.8 69.6M684.8 75.7L689.8 80.7M693.2 75.1L697.4 70.8M698.2 63.1L702.3 58.9M701.5 78.4L706.7 73.1M719.3 75.9L725.3 75.9M749.8 65.8L749.8 72.5M760.4 55.9L765.0 60.5M785.6 53.3L792.0 53.3M798.7 57.9L802.7 61.9M821.5 58.9L827.7 58.9M833.0 58.4L838.6 58.4M858.3 54.7L862.3 58.8M890.4 54.7L896.8 54.7M925.7 51.4L930.3 46.9M931.2 52.8L935.4 48.6M969.4 59.3L973.5 63.4M978.9 45.8L978.9 52.2M1023.2 56.0L1028.3 61.1M1088.8 59.8L1094.5 59.8M1266.3 436.5L1273.0 436.5M1314.9 361.5L1319.3 365.9M1329.9 377.5L1337.1 377.5M1382.7 373.7L1389.5 373.7M1399.7 360.7L1407.1 360.7M1417.0 330.9L1423.9 330.9M1434.5 303.7L1439.1 299.0M1446.8 277.3L1446.8 284.0M1470.7 216.7L1475.2 221.2M1476.6 217.2L1481.4 212.4M1494.3 193.0L1498.3 189.0M1497.1 187.8L1503.5 187.8M1530.1 145.5L1534.3 141.2M1545.6 131.4L1551.9 131.4M1566.5 112.0L1571.4 107.1M1573.7 113.6L1580.3 113.6M1580.3 98.0L1584.4 102.1M1633.6 90.8L1638.5 95.8M1642.0 91.2L1648.9 91.2M1684.8 75.8L1689.2 71.4M1690.9 76.5L1697.0 76.5M1734.5 76.5L1734.5 82.5M1738.5 74.2L1743.7 69.0M1745.0 75.5L1745.0 81.4M1766.4 67.7L1772.3 67.7M1787.2 74.9L1794.3 74.9M1795.5 65.5L1802.5 65.5M1806.7 67.5L1811.4 72.2M1854.7 67.3L1859.1 62.9M1885.4 57.9L1890.5 52.8M1902.6 53.1L1907.1 57.6" stroke="#0000ff" stroke-width="1.5" fill="none"/>
<path d="M1129.8 111.6L1135.4 111.6M1132.3 122.5L1138.9 122.5M1136.1 133.6L1142.1 133.6M1141.5 156.0L1148.9 156.0M1156.5 269.4L1163.7 269.4M1158.9 292.0L1164.6 292.0M1165.5 372.0L1171.9 372.0M1171.5 475.0L1178.5 475.0M1173.0 486.6L1179.2 486.6M1173.6 498.2L1179.6 498.2M1179.4 623.9L1185.9 623.9M1181.2 646.8L1188.2 646.8M1182.1 669.4L1188.3 669.4M1190.8 818.7L1197.2 818.7M1193.6 875.7L1199.7 875.7M1193.3 887.3L1199.0 887.3M1199.4 990.5L1206.6 990.5M1203.6 1036.3L1210.0 1036.3M1206.3 1059.1L1213.2 1059.1M1219.0 1167.3L1225.4 1167.3M1222.2 1143.9L1228.2 1143.9M1223.1 1132.5L1228.9 1132.5M1223.7 1086.9L1230.5 1086.9M1226.7 1041.4L1232.5 1041.4M1237.3 858.5L1243.1 858.5M1243.8 743.5L1250.5 743.5M1245.7 720.5L1252.2 720.5M1249.3 650.8L1254.9 650.8M1252.0 604.7L1258.8 604.7M1254.9 547.1L1261.5 547.1M1254.4 535.9L1260.8 535.9M1255.1 524.2L1262.6 524.2M1257.2 501.3L1263.0 501.3M1257.5 490.0L1264.1 490.0M1451.1 261.5L1458.6 261.5" stroke="#0000ff" stroke-width="1.6" fill="none"/>
<path d="M252.9 52.1L257.3 47.7M255.1 54.0L261.1 54.0M265.6 55.3L272.0 55.3M272.6 48.1L278.2 48.1M280.4 54.5L284.8 50.0M286.1 43.5L290.3 47.7M294.7 47.7L294.7 54.7M302.1 59.0L308.3 59.0M318.8 64.7L325.7 64.7M343.1 48.1L343.1 53.7M343.1 59.2L350.4 59.2M355.6 51.5L361.6 51.5M363.4 49.0L363.4 55.0M365.0 59.6L372.4 59.6M373.5 63.5L378.4 68.4M380.5 55.8L385.3 51.0M385.9 55.0L391.5 55.0M393.3 43.7L400.6 43.7M400.8 52.9L407.5 52.9M404.8 49.2L410.7 49.2M417.1 45.7L417.1 53.0M417.5 51.4L424.2 51.4M427.5 50.3L431.6 46.1M436.5 66.2L443.0 66.2M446.0 55.3L450.4 51.0M449.6 57.9L455.6 57.9M454.0 56.4L458.2 52.2M503.7 60.2L508.4 64.9M513.9 66.9L520.5 66.9M525.0 49.5L531.3 49.5M541.6 65.4L547.2 65.4M552.3 43.5L558.0 43.5M585.1 57.8L591.9 57.8M591.7 55.3L596.5 60.1M596.6 56.8L602.8 56.8M604.8 63.9L611.1 63.9M611.8 58.7L619.2 58.7M618.6 59.8L622.8 55.6M632.9 69.5L637.0 73.6M654.9 66.6L662.0 66.6M666.1 73.1L672.3 73.1M672.8 71.7L679.2 71.7M708.8 60.9L714.0 55.7M715.0 68.6L722.0 68.6M732.9 65.7L738.0 70.7M752.7 66.6L759.4 66.6M766.2 54.9L766.2 61.3M772.7 65.4L777.2 61.0M782.9 50.8L782.9 57.9M794.6 55.4L794.6 62.0M800.7 47.3L807.0 47.3M808.6 55.8L815.7 55.8M816.4 58.6L823.6 58.6M841.4 54.4L848.8 54.4M849.4 55.6L853.5 51.5M860.9 61.1L865.5 65.7M879.0 56.7L883.4 61.1M885.7 61.6L885.7 67.2M898.9 61.2L903.5 65.8M911.7 50.3L911.7 56.6M935.4 46.6L939.3 50.5M940.9 68.9L946.6 68.9M945.8 51.9L950.8 56.9M953.6 51.9L958.5 56.8M956.9 50.1L961.8 55.0M962.2 62.8L968.8 62.8M979.3 54.6L984.6 49.4M994.1 46.6L994.1 53.5M997.2 54.6L1003.3 54.6M1008.7 54.5L1008.7 60.2M1010.1 59.9L1017.0 59.9M1014.7 57.9L1020.5 57.9M1030.8 48.8L1037.5 48.8M1034.4 66.4L1039.5 61.3M1040.3 63.6L1046.7 63.6M1050.8 54.1L1056.0 48.9M1056.0 63.6L1063.3 63.6M1064.6 49.9L1070.6 49.9M1067.8 48.1L1073.7 48.1M1084.4 49.6L1084.4 57.1M1098.7 65.1L1104.7 65.1M1102.1 54.6L1107.2 59.7M1106.6 62.2L1106.6 67.8M1111.7 62.4L1111.7 68.3M1120.5 93.1L1125.0 97.6M1121.8 111.7L1128.5 111.7M1125.9 97.9L1130.8 93.0M1139.5 145.0L1145.3 145.0M1143.6 167.4L1149.7 167.4M1145.4 178.8L1152.0 178.8M1146.9 190.4L1153.9 190.4M1147.9 201.6L1153.7 201.6M1149.6 210.3L1154.7 215.4M1153.5 235.2L1159.0 235.2M1155.5 257.9L1162.7 257.9M1157.8 280.8L1163.8 280.8M1160.1 301.5L1164.5 305.9M1159.8 315.1L1166.4 315.1M1162.3 337.8L1168.2 337.8M1163.7 349.3L1170.1 349.3M1166.2 383.3L1172.3 383.3M1167.3 394.7L1173.9 394.7M1167.3 406.0L1174.1 406.0M1168.7 417.7L1175.4 417.7M1170.2 426.4L1175.3 431.6M1171.0 440.5L1176.7 440.5M1172.3 463.4L1178.5 463.4M1173.5 509.6L1180.1 509.6M1174.1 532.4L1181.3 532.4M1174.4 543.9L1181.2 543.9M1175.5 555.3L1181.7 555.3M1176.9 566.7L1183.4 566.7M1176.0 578.3L1183.0 578.3M1178.4 589.6L1184.6 589.6M1177.8 601.2L1185.1 601.2M1180.4 635.4L1185.9 635.4M1183.2 681.0L1190.3 681.0M1183.8 692.4L1189.6 692.4M1184.9 715.5L1191.5 715.5M1186.7 738.5L1193.0 738.5M1187.2 750.2L1193.2 750.2M1187.8 772.9L1194.9 772.9M1189.8 795.8L1195.7 795.8M1190.0 807.4L1197.1 807.4M1191.2 841.5L1198.2 841.5M1192.2 850.0L1197.5 855.4M1193.8 898.9L1200.2 898.9M1194.5 921.7L1201.2 921.7M1197.8 964.9L1203.1 970.2M1198.7 978.8L1204.9 978.8M1202.8 1024.8L1209.5 1024.8M1210.5 1115.8L1216.3 1115.8M1212.2 1149.9L1218.6 1149.9M1213.7 1161.1L1220.6 1161.1M1216.2 1172.6L1221.9 1172.6M1221.4 1155.7L1227.3 1155.7M1224.3 1107.2L1229.4 1112.3M1225.0 1095.8L1229.8 1100.6M1224.7 1075.5L1230.7 1075.5M1225.3 1064.3L1231.0 1064.3M1224.7 1053.0L1232.2 1053.0M1227.7 1018.4L1234.4 1018.4M1229.1 1005.0L1233.3 1009.2M1229.9 995.7L1235.7 995.7M1229.9 984.5L1236.4 984.5M1230.3 972.9L1237.2 972.9M1230.4 961.6L1237.6 961.6M1231.7 939.1L1238.1 939.1M1233.1 927.8L1238.7 927.8M1232.5 916.1L1239.8 916.1M1233.7 904.7L1240.9 904.7M1235.0 881.6L1242.4 881.6M1235.9 870.0L1242.3 870.0M1237.0 847.2L1243.0 847.2M1237.9 824.1L1245.3 824.1M1240.3 801.1L1246.1 801.1M1243.1 755.0L1250.3 755.0M1245.7 732.0L1251.6 732.0M1246.7 709.0L1252.4 709.0M1246.5 697.4L1252.6 697.4M1247.5 685.8L1253.4 685.8M1248.0 674.1L1254.8 674.1M1248.3 662.5L1254.9 662.5M1249.6 639.2L1256.2 639.2M1250.2 627.6L1256.6 627.6M1252.7 581.9L1259.7 581.9M1253.7 558.8L1260.3 558.8M1255.3 512.8L1262.1 512.8M1257.0 478.8L1263.9 478.8M1260.0 456.1L1266.9 456.1M1263.2 443.0L1267.4 447.2M1269.0 428.1L1275.0 428.1M1270.9 417.1L1277.9 417.1M1274.2 406.0L1281.2 406.0M1279.2 395.3L1285.3 395.3M1285.2 385.5L1290.1 390.4M1291.8 379.4L1291.8 386.1M1293.6 370.8L1300.7 370.8M1302.3 366.0L1302.3 372.4M1302.7 361.8L1308.7 361.8M1318.7 369.3L1322.8 373.4M1322.5 374.6L1329.6 374.6M1334.6 388.3L1340.7 388.3M1339.1 374.7L1345.5 374.7M1341.4 381.1L1347.7 381.1M1349.7 383.1L1354.9 388.3M1353.0 388.8L1358.3 383.6M1360.2 391.6L1364.7 387.0M1366.9 387.2L1371.7 382.4M1371.8 386.1L1376.1 381.7M1378.4 388.7L1384.7 388.7M1390.3 369.6L1396.8 369.6M1396.0 363.1L1401.6 363.1M1397.1 368.6L1404.5 368.6M1406.4 351.2L1412.7 351.2M1409.1 340.1L1416.0 340.1M1414.5 320.9L1414.5 328.0M1419.2 317.7L1426.6 317.7M1424.0 316.4L1429.7 316.4M1427.3 308.9L1431.8 304.5M1432.4 301.8L1436.9 297.3M1441.4 285.1L1447.3 285.1M1443.8 278.2L1448.6 283.0M1446.3 271.9L1453.5 271.9M1458.4 250.4L1458.4 257.2M1461.2 234.9L1465.2 238.9M1463.9 232.2L1468.7 237.1M1481.3 209.8L1487.0 209.8M1482.5 209.7L1488.2 209.7M1487.7 207.2L1492.4 211.9M1489.4 191.4L1496.4 191.4M1503.0 171.5L1503.0 178.1M1505.0 175.3L1510.7 175.3M1509.2 158.9L1509.2 166.4M1508.4 159.7L1515.0 159.7M1512.6 164.4L1519.4 164.4M1514.7 161.4L1520.3 161.4M1521.5 150.7L1527.3 150.7M1526.3 159.0L1533.2 159.0M1535.1 147.1L1535.1 153.0M1538.1 144.0L1543.0 139.1M1541.7 122.2L1547.2 122.2M1554.9 121.5L1559.7 126.3M1555.3 123.3L1560.4 118.2M1561.6 118.6L1565.6 114.6M1569.1 126.2L1574.6 126.2M1583.0 112.4L1590.1 112.4M1588.6 107.3L1594.3 107.3M1605.0 106.9L1611.8 106.9M1611.7 87.6L1611.7 95.0M1617.4 97.5L1617.4 103.8M1622.4 89.2L1626.5 93.3M1628.5 98.4L1635.7 98.4M1638.8 90.6L1645.7 90.6M1646.6 93.8L1654.0 93.8M1653.3 84.7L1659.0 84.7M1667.5 79.2L1672.6 84.3M1675.8 83.5L1675.8 89.3M1694.9 83.0L1702.1 83.0M1698.2 83.7L1705.5 83.7M1709.7 78.1L1715.6 78.1M1716.7 66.5L1721.9 71.7M1725.3 66.9L1725.3 73.4M1723.8 74.6L1728.4 70.0M1758.9 74.3L1758.9 81.7M1811.4 57.9L1817.7 57.9M1816.6 69.1L1820.6 73.1M1819.9 61.6L1827.3 61.6M1830.0 62.6L1830.0 68.3M1835.6 77.2L1840.0 72.7M1839.2 56.6L1846.1 56.6M1848.2 65.5L1854.9 65.5M1859.3 69.1L1866.5 69.1M1873.4 67.3L1879.1 67.3M1877.9 57.8L1882.7 53.0M1898.5 58.8L1898.5 64.8" stroke="#0000ff" stroke-width="2.0" fill="none"/>
<path d="M1151.6 224.0L1157.9 224.0M1153.1 246.6L1160.5 246.6M1161.6 326.4L1169.0 326.4M1163.9 360.8L1170.7 360.8M1171.4 451.8L1177.0 451.8M1173.9 521.1L1180.1 521.1M1179.2 612.5L1185.0 612.5M1181.2 658.2L1187.8 658.2M1184.3 703.9L1190.8 703.9M1186.7 727.1L1192.3 727.1M1188.4 761.6L1194.3 761.6M1188.3 784.1L1194.1 784.1M1190.7 830.0L1197.9 830.0M1193.4 864.1L1199.5 864.1M1195.0 910.4L1200.8 910.4M1195.2 933.2L1201.9 933.2M1196.0 944.8L1203.3 944.8M1197.1 956.3L1202.8 956.3M1200.8 1001.7L1207.4 1001.7M1201.7 1013.3L1208.2 1013.3M1205.3 1047.6L1212.4 1047.6M1206.9 1070.6L1214.0 1070.6M1208.1 1082.0L1215.2 1082.0M1208.8 1093.4L1215.6 1093.4M1208.6 1104.6L1215.7 1104.6M1210.5 1127.2L1216.1 1127.2M1211.8 1138.5L1218.8 1138.5M1217.3 1178.9L1223.7 1178.9M1222.9 1121.2L1228.9 1121.2M1228.1 1029.8L1233.7 1029.8M1231.0 950.4L1237.8 950.4M1234.5 893.2L1240.5 893.2M1238.4 835.6L1244.6 835.6M1239.4 812.6L1245.0 812.6M1241.0 789.6L1246.6 789.6M1242.1 778.0L1249.2 778.0M1242.9 766.5L1249.3 766.5M1250.6 616.1L1256.9 616.1M1252.5 593.5L1258.0 593.5M1252.9 570.4L1260.0 570.4M1258.9 467.4L1264.6 467.4" stroke="#0000ff" stroke-width="2.6" fill="none"/>
<path d="M296.7 43.5L303.7 43.5M307.5 52.7L313.1 52.7M329.4 51.5L329.4 58.9M352.3 57.4L356.6 53.1M430.8 50.1L436.9 50.1M481.8 58.3L488.8 58.3M490.6 51.8L497.8 51.8M493.7 51.0L500.9 51.0M506.8 58.9L511.8 63.9M519.1 45.7L525.1 45.7M528.4 50.0L534.3 50.0M537.3 48.0L543.8 48.0M547.1 47.8L551.4 43.5M565.3 65.7L570.5 70.9M572.9 58.5L578.0 63.7M577.6 47.2L584.4 47.2M583.5 51.2L583.5 58.3M629.3 53.2L629.3 59.3M649.9 62.1L655.2 67.4M723.7 83.3L728.8 78.2M730.1 63.6L736.2 63.6M740.2 64.0L745.4 58.8M826.2 61.8L830.2 65.9M835.8 53.2L842.5 53.2M868.1 56.0L874.9 56.0M874.1 57.1L874.1 63.9M888.9 59.5L895.9 59.5M905.1 62.5L910.1 67.5M918.1 64.2L918.1 69.7M918.9 53.1L923.0 49.0M984.6 53.0L991.6 53.0M1046.1 55.1L1051.2 50.0M1076.7 48.5L1083.2 48.5M1093.6 60.5L1093.6 66.4M1110.4 89.4L1116.6 89.4M1111.4 71.3L1117.9 71.3M1115.3 88.7L1121.8 88.7M1290.3 367.8L1295.1 363.0M1307.3 367.3L1312.3 372.3M1388.6 369.9L1388.6 377.3M1405.5 358.7L1410.2 354.0M1436.1 291.8L1442.0 291.8M1459.0 230.4L1463.8 235.2M1469.8 227.5L1469.8 233.5M1596.0 104.6L1599.9 100.7M1602.8 96.6L1607.1 100.8M1661.9 87.2L1666.5 91.8M1677.6 91.1L1682.0 86.6M1708.8 85.5L1713.2 81.1M1751.7 60.8L1756.1 56.4M1762.1 73.2L1766.5 68.9M1775.9 72.4L1780.2 68.1M1782.3 67.3L1787.6 72.6M1792.7 66.9L1799.2 66.9M1865.5 53.2L1872.0 53.2M1892.8 67.1L1897.1 62.8" stroke="#0000ff" stroke-width="2.8" fill="none"/>
<rect x="246.5" y="40.5" width="1667.5" height="1152.0" fill="none" stroke="#000" stroke-width="5"/>
<path d="M350.7 1190.0V1181.0M454.9 1190.0V1181.0M559.2 1190.0V1169.0M663.4 1190.0V1181.0M767.6 1190.0V1181.0M871.8 1190.0V1181.0M976.0 1190.0V1169.0M1080.2 1190.0V1181.0M1184.5 1190.0V1181.0M1288.7 1190.0V1181.0M1392.9 1190.0V1169.0M1497.1 1190.0V1181.0M1601.3 1190.0V1181.0M1705.6 1190.0V1181.0M1809.8 1190.0V1169.0M249.0 1077.3H258.0M249.0 962.1H270.0M249.0 846.9H258.0M249.0 731.7H270.0M249.0 616.5H258.0M249.0 501.3H270.0M249.0 386.1H258.0M249.0 270.9H270.0M249.0 155.7H258.0M1911.5 184.5H1902.5M1911.5 328.5H1891.5M1911.5 472.5H1902.5M1911.5 616.5H1891.5M1911.5 760.5H1902.5M1911.5 904.5H1891.5M1911.5 1048.5H1902.5" stroke="#000" stroke-width="5" fill="none"/>
<text transform="translate(559.16,1272.30) scale(0.965,1)" font-family="Liberation Serif, Times New Roman, serif" font-size="75" text-anchor="middle">200</text>
<text transform="translate(976.03,1272.30) scale(0.965,1)" font-family="Liberation Serif, Times New Roman, serif" font-size="75" text-anchor="middle">400</text>
<text transform="translate(1392.91,1272.30) scale(0.965,1)" font-family="Liberation Serif, Times New Roman, serif" font-size="75" text-anchor="middle">600</text>
<text transform="translate(1809.78,1272.30) scale(0.965,1)" font-family="Liberation Serif, Times New Roman, serif" font-size="75" text-anchor="middle">800</text>
<text transform="translate(222.80,61.80) scale(0.965,1)" font-family="Liberation Serif, Times New Roman, serif" font-size="75" text-anchor="end">100</text>
<text transform="translate(222.80,292.20) scale(0.965,1)" font-family="Liberation Serif, Times New Roman, serif" font-size="75" text-anchor="end">90</text>
<text transform="translate(222.80,522.60) scale(0.965,1)" font-family="Liberation Serif, Times New Roman, serif" font-size="75" text-anchor="end">80</text>
<text transform="translate(222.80,753.00) scale(0.965,1)" font-family="Liberation Serif, Times New Roman, serif" font-size="75" text-anchor="end">70</text>
<text transform="translate(222.80,983.40) scale(0.965,1)" font-family="Liberation Serif, Times New Roman, serif" font-size="75" text-anchor="end">60</text>
<text transform="translate(222.80,1213.80) scale(0.965,1)" font-family="Liberation Serif, Times New Roman, serif" font-size="75" text-anchor="end">50</text>
<text transform="translate(1937.90,62.00) scale(0.944,1)" font-family="Liberation Serif, Times New Roman, serif" font-size="75">0.00E+00</text>
<text transform="translate(1937.90,350.00) scale(0.944,1)" font-family="Liberation Serif, Times New Roman, serif" font-size="75">-2.50E-04</text>
<text transform="translate(1937.90,638.00) scale(0.944,1)" font-family="Liberation Serif, Times New Roman, serif" font-size="75">-5.00E-04</text>
<text transform="translate(1937.90,926.00) scale(0.944,1)" font-family="Liberation Serif, Times New Roman, serif" font-size="75">-7.50E-04</text>
<text transform="translate(1937.90,1214.00) scale(0.944,1)" font-family="Liberation Serif, Times New Roman, serif" font-size="75">-1.00E-03</text>
<text transform="translate(759.60,1398.80)" font-family="Liberation Serif, Times New Roman, serif" font-size="85" font-weight="bold" textLength="644" lengthAdjust="spacing">Temperature (<tspan font-size="50" dy="-33">o</tspan><tspan dy="33">C)</tspan></text>
<text transform="translate(76.00,807.00) rotate(-90)" font-family="Liberation Serif, Times New Roman, serif" font-size="86" font-weight="bold" textLength="424" lengthAdjust="spacing">Weight (%)</text>
<text transform="translate(2322.00,1098.40) rotate(-90)" font-family="Liberation Serif, Times New Roman, serif" font-size="85" font-weight="bold" textLength="964" lengthAdjust="spacing">Derivative weight (%·<tspan font-size="50" dy="-33">o</tspan><tspan dy="33">C</tspan><tspan font-size="58" font-weight="normal" dy="-35">-1</tspan><tspan dy="35">)</tspan></text>
<path d="M317 890H428" stroke="#000000" stroke-width="7"/>
<text x="440" y="906" font-family="Liberation Serif, Times New Roman, serif" font-size="49">Neat Matrimid</text>
<path d="M317 950.2H428" stroke="#ff0000" stroke-width="7"/>
<text x="440" y="967.2" font-family="Liberation Serif, Times New Roman, serif" font-size="49">Matrimid + protonated g-C<tspan font-size="33" dy="13">3</tspan><tspan dy="-13">N</tspan><tspan font-size="33" dy="13">4</tspan></text>
<path d="M317 1022.6H428" stroke="#00ff00" stroke-width="7"/>
<text x="440" y="1038.6" font-family="Liberation Serif, Times New Roman, serif" font-size="49">Matrimid + O<tspan font-size="33" dy="13">2</tspan><tspan dy="-13"> plasma g-C</tspan><tspan font-size="33" dy="13">3</tspan><tspan dy="-13">N</tspan><tspan font-size="33" dy="13">4</tspan></text>
<path d="M317 1094.1H428" stroke="#0000ff" stroke-width="7"/>
<text x="440" y="1110" font-family="Liberation Serif, Times New Roman, serif" font-size="49">Matrimid + hydrazinated g-C<tspan font-size="33" dy="13">3</tspan><tspan dy="-13">N</tspan><tspan font-size="33" dy="13">4</tspan></text>
<path d="M795.2 332.0H800.2M799.3 343.1H804.6M802.7 354.2H808.2M811.2 387.5H817.0M815.8 398.6H819.4M816.7 409.7H821.4M817.3 420.8H823.1M819.7 431.9H824.8M824.4 465.2H829.1M826.0 476.3H830.1M826.3 487.4H831.2M827.3 498.5H832.3M829.9 509.6H833.5M830.7 542.9H836.5M831.8 554.0H837.2M834.1 565.1H838.0M833.4 576.2H838.9M835.9 587.3H839.7M838.7 620.6H842.3M837.3 631.7H843.0M839.8 642.8H843.8M840.8 653.9H844.8M840.0 665.0H845.9M851.7 283.4H857.7M852.0 294.5H856.9M850.2 350.0H856.3M850.1 361.1H855.8M849.6 372.2H855.8M849.5 383.3H855.5M849.7 394.4H854.7M849.4 405.5H854.5M849.3 416.6H854.1M849.1 427.7H853.8M847.4 483.2H853.1M847.4 494.3H852.5M847.2 505.4H852.2M846.5 516.5H852.4M846.6 527.6H851.9M846.5 538.7H851.5M846.1 549.8H851.4M845.6 560.9H851.3M855 272L858 275.5" stroke="#000" stroke-width="1.6" fill="none"/>
<path d="M805.5 365.3H811.4M809.0 376.4H814.3M820.7 443.0H826.5M824.0 454.1H827.8M830.5 520.7H834.6M831.4 531.8H835.6M835.5 598.4H840.6M837.6 609.5H841.4M851.1 305.6H857.3M851.2 316.7H856.7M850.9 327.8H856.5M851.0 338.9H855.9M848.9 438.8H853.5M848.5 449.9H853.5M848.0 461.0H853.5M848.2 472.1H852.7M845.9 572.0H850.5M844.9 583.1H851.1M845.5 594.2H850.0" stroke="#000" stroke-width="2.6" fill="none"/>
<path d="M417.0 273.3 L417.8 273.3 L418.6 273.3 L419.4 273.3 L420.2 273.3 L421.1 273.3 L422.0 273.3 L423.0 273.3 L423.9 273.3 L424.9 273.3 L425.9 273.3 L427.0 273.3 L428.0 273.3 L429.1 273.3 L430.3 273.3 L431.4 273.3 L432.6 273.3 L433.7 273.3 L435.0 273.3 L436.2 273.3 L437.4 273.3 L438.7 273.3 L440.0 273.3 L441.3 273.3 L442.7 273.3 L444.0 273.3 L445.4 273.3 L446.8 273.3 L448.2 273.3 L449.6 273.3 L451.1 273.3 L452.6 273.3 L454.0 273.3 L455.5 273.3 L457.1 273.3 L458.6 273.3 L460.1 273.3 L461.7 273.3 L463.3 273.3 L464.8 273.3 L466.4 273.3 L468.1 273.3 L469.7 273.3 L471.3 273.3 L473.0 273.3 L474.6 273.3 L476.3 273.3 L478.0 273.3 L479.7 273.3 L481.3 273.3 L483.1 273.3 L484.8 273.3 L486.5 273.3 L488.2 273.3 L489.9 273.3 L491.7 273.3 L493.4 273.3 L495.2 273.3 L496.9 273.3 L498.7 273.3 L500.5 273.3 L502.2 273.3 L504.0 273.3 L505.8 273.3 L507.6 273.3 L509.4 273.3 L511.1 273.3 L512.9 273.3 L514.7 273.3 L516.5 273.3 L518.3 273.3 L520.1 273.3 L521.9 273.3 L523.6 273.3 L525.4 273.3 L527.2 273.3 L529.0 273.3 L530.7 273.3 L532.5 273.3 L534.3 273.3 L536.0 273.3 L537.8 273.3 L539.5 273.3 L541.3 273.3 L543.0 273.3 L544.7 273.3 L546.5 273.3 L548.2 273.3 L549.9 273.3 L551.6 273.3 L553.3 273.3 L555.0 273.3 L556.6 273.3 L558.3 273.3 L559.9 273.3 L561.6 273.3 L563.2 273.3 L564.8 273.3 L566.4 273.3 L568.0 273.3 L569.6 273.3 L571.2 273.3 L572.7 273.3 L574.2 273.3 L575.8 273.3 L577.3 273.3 L578.7 273.3 L580.2 273.3 L581.7 273.3 L583.1 273.3 L584.5 273.3 L585.9 273.3 L587.3 273.3 L588.7 273.3 L590.0 273.3 L591.3 273.3 L592.6 273.3 L593.9 273.3 L595.2 273.3 L596.4 273.3 L597.6 273.3 L598.8 273.3 L600.0 273.3 L602.1 273.3 L604.2 273.3 L606.3 273.3 L608.4 273.3 L610.5 273.3 L612.5 273.3 L614.5 273.3 L616.5 273.3 L618.5 273.3 L620.4 273.3 L622.4 273.3 L624.3 273.3 L626.2 273.3 L628.1 273.3 L629.9 273.3 L631.8 273.3 L633.6 273.3 L635.4 273.3 L637.1 273.3 L638.9 273.3 L640.6 273.3 L642.4 273.3 L644.1 273.3 L645.8 273.3 L647.4 273.3 L649.1 273.3 L650.7 273.3 L652.3 273.3 L653.9 273.3 L655.5 273.3 L657.0 273.3 L658.5 273.3 L660.1 273.3 L661.6 273.3 L663.0 273.3 L664.5 273.3 L665.9 273.3 L667.4 273.3 L668.8 273.3 L670.2 273.3 L671.5 273.3 L672.9 273.3 L674.2 273.3 L675.5 273.3 L676.8 273.3 L678.1 273.3 L679.4 273.3 L680.6 273.3 L681.8 273.4 L683.0 273.4 L684.2 273.4 L685.4 273.4 L686.5 273.4 L687.7 273.4 L688.8 273.4 L689.9 273.4 L691.0 273.4 L692.1 273.4 L693.1 273.4 L694.2 273.4 L695.2 273.4 L696.2 273.4 L697.2 273.4 L698.1 273.4 L699.1 273.4 L700.0 273.4 L704.0 273.4 L707.3 273.4 L710.0 273.4 L712.2 273.4 L714.0 273.4 L715.3 273.4 L716.4 273.4 L717.3 273.4 L718.0 273.5 L718.6 273.5 L719.2 273.5 L720.0 273.6 L720.9 273.7 L722.0 273.8 L723.8 274.0 L725.4 274.2 L726.8 274.4 L728.1 274.6 L729.4 274.9 L730.7 275.2 L732.2 275.6 L733.8 276.1 L735.6 276.7 L736.9 277.1 L738.2 277.6 L739.7 278.0 L741.2 278.6 L742.8 279.1 L744.4 279.7 L746.1 280.3 L747.7 281.0 L749.4 281.6 L751.0 282.2 L752.5 282.8 L754.0 283.4 L755.4 284.0 L756.7 284.5 L757.9 285.0 L759.8 285.8 L761.5 286.6 L762.9 287.3 L764.1 288.0 L765.3 288.7 L766.5 289.4 L767.7 290.2 L769.0 291.1 L770.2 291.9 L771.5 292.8 L772.7 293.7 L773.9 294.7 L775.2 295.7 L776.4 296.7 L777.6 297.7 L778.9 298.8 L780.1 300.0 L781.1 301.0 L782.1 301.9 L783.1 302.9 L784.1 303.9 L785.1 304.9 L786.1 306.0 L787.2 307.1 L788.2 308.3 L789.2 309.5 L790.2 310.9 L791.2 312.3 L792.0 313.4 L792.7 314.6 L793.5 315.9 L794.3 317.2 L795.1 318.6 L795.9 320.0 L796.8 321.4 L797.5 322.9 L798.3 324.3 L799.1 325.7 L799.8 327.1 L800.5 328.5 L801.2 329.8 L801.8 331.1 L802.4 332.3 L803.2 334.0 L803.9 335.5 L804.5 337.0 L805.0 338.4 L805.5 339.7 L806.0 341.1 L806.4 342.5 L806.9 343.9 L807.4 345.4 L807.9 347.0 L808.3 348.3 L808.8 349.6 L809.2 351.0 L809.6 352.3 L810.0 353.7 L810.5 355.2 L810.9 356.6 L811.3 358.1 L811.8 359.5 L812.2 361.1 L812.6 362.6 L813.1 364.1 L813.5 365.7 L813.9 367.1 L814.3 368.5 L814.6 369.9 L815.0 371.4 L815.4 372.9 L815.8 374.4 L816.2 375.9 L816.6 377.4 L817.0 378.9 L817.3 380.5 L817.7 382.0 L818.1 383.5 L818.4 385.0 L818.8 386.5 L819.1 388.0 L819.4 389.5 L819.8 391.0 L820.1 392.4 L820.4 393.8 L820.7 395.1 L820.9 396.5 L821.2 397.9 L821.5 399.3 L821.8 400.8 L822.1 402.4 L822.4 404.1 L822.7 405.9 L823.0 407.9 L823.4 410.0 L823.6 411.2 L823.8 412.4 L824.0 413.7 L824.2 415.0 L824.4 416.4 L824.7 417.7 L824.9 419.2 L825.1 420.6 L825.3 422.1 L825.6 423.6 L825.8 425.1 L826.1 426.7 L826.3 428.3 L826.5 429.8 L826.8 431.4 L827.0 433.0 L827.2 434.6 L827.5 436.3 L827.7 437.9 L827.9 439.5 L828.2 441.1 L828.4 442.7 L828.6 444.2 L828.8 445.8 L829.0 447.4 L829.2 448.9 L829.4 450.4 L829.6 451.9 L829.8 453.4 L829.9 454.9 L830.1 456.4 L830.3 457.9 L830.4 459.4 L830.6 460.9 L830.8 462.3 L830.9 463.8 L831.1 465.3 L831.2 466.8 L831.4 468.3 L831.5 469.8 L831.6 471.3 L831.8 472.8 L831.9 474.3 L832.1 475.8 L832.2 477.3 L832.4 478.8 L832.5 480.3 L832.6 481.7 L832.8 483.2 L832.9 484.7 L833.1 486.2 L833.2 487.7 L833.4 489.2 L833.5 490.7 L833.7 492.2 L833.8 493.8 L834.0 495.3 L834.1 496.9 L834.3 498.4 L834.5 500.0 L834.6 501.5 L834.8 503.1 L834.9 504.6 L835.1 506.2 L835.3 507.7 L835.4 509.3 L835.6 510.8 L835.7 512.4 L835.9 513.9 L836.0 515.5 L836.2 517.0 L836.3 518.6 L836.5 520.1 L836.6 521.7 L836.8 523.2 L836.9 524.8 L837.1 526.3 L837.2 527.9 L837.4 529.4 L837.5 531.0 L837.6 532.5 L837.8 534.0 L837.9 535.5 L838.0 537.0 L838.1 538.5 L838.2 540.0 L838.3 541.5 L838.5 543.0 L838.6 544.5 L838.7 546.0 L838.8 547.5 L838.9 548.9 L839.0 550.4 L839.1 551.9 L839.2 553.4 L839.3 554.9 L839.4 556.4 L839.5 557.9 L839.6 559.4 L839.7 560.9 L839.8 562.4 L840.0 563.9 L840.1 565.4 L840.2 566.9 L840.3 568.4 L840.4 569.9 L840.5 571.4 L840.6 572.9 L840.7 574.4 L840.8 575.9 L841.0 577.4 L841.1 578.9 L841.2 580.4 L841.3 581.9 L841.4 583.4 L841.5 584.9 L841.6 586.4 L841.8 587.9 L841.9 589.4 L842.0 590.9 L842.1 592.4 L842.2 593.9 L842.3 595.3 L842.5 596.8 L842.6 598.3 L842.7 599.8 L842.8 601.3 L842.9 602.8 L843.0 604.3 L843.1 605.8 L843.3 607.3 L843.4 608.8 L843.5 610.3 L843.6 611.8 L843.7 613.4 L843.8 615.0 L844.0 616.6 L844.1 618.2 L844.2 619.8 L844.3 621.5 L844.4 623.1 L844.5 624.8 L844.7 626.5 L844.8 628.1 L844.9 629.8 L845.0 631.5 L845.1 633.1 L845.2 634.7 L845.4 636.4 L845.5 637.9 L845.6 639.5 L845.7 641.1 L845.8 642.6 L845.9 644.1 L846.0 645.5 L846.2 646.9 L846.3 648.3 L846.4 649.6 L846.5 650.9 L846.6 652.1 L846.8 654.3 L847.0 656.3 L847.2 658.3 L847.4 660.1 L847.6 661.9 L847.8 663.6 L847.9 665.2 L848.1 666.7 L848.3 668.1 L848.5 669.4 L848.7 670.7 L848.8 671.8 L849.0 673.0 L849.2 674.0 L849.8 676.8 L850.3 678.4 L850.8 679.5 L851.5 680.5 L852.2 681.8 L852.9 682.7 L855.0 683.4 L855.9 683.6 L856.6 683.7 L857.4 683.8 L858.3 683.9 L859.3 684.0 L860.6 684.0 L862.2 684.1 L864.3 684.1 L866.8 684.2 L870.0 684.2 L871.0 684.2 L872.1 684.2 L873.4 684.2 L874.7 684.2 L876.0 684.3 L877.5 684.3 L879.0 684.3 L880.6 684.3 L882.2 684.3 L883.9 684.3 L885.6 684.3 L887.4 684.3 L889.2 684.3 L891.0 684.3 L892.9 684.3 L894.7 684.3 L896.6 684.3 L898.4 684.4 L900.3 684.4 L902.1 684.4 L904.0 684.4 L905.8 684.4 L907.5 684.4 L909.3 684.4 L910.9 684.4 L912.6 684.4 L914.2 684.4 L915.7 684.4 L917.2 684.4 L918.6 684.4 L919.9 684.4 L921.1 684.4 L922.2 684.4 L923.2 684.4 L924.2 684.4 L925.0 684.4" stroke="#000" stroke-width="4.2" fill="none" stroke-linejoin="round"/>
<rect x="415.8" y="270.8" width="510.3" height="422.7" fill="none" stroke="#000" stroke-width="2"/>
<path d="M447.7 693.5V689.5M479.6 693.5V689.5M511.5 693.5V685.5M543.4 693.5V689.5M575.3 693.5V689.5M607.2 693.5V689.5M639.1 693.5V685.5M671.0 693.5V689.5M702.8 693.5V689.5M734.7 693.5V689.5M766.6 693.5V685.5M798.5 693.5V689.5M830.4 693.5V689.5M862.3 693.5V689.5M894.2 693.5V685.5M415.8 651.2H419.8M415.8 609.0H423.8M415.8 566.7H419.8M415.8 524.4H423.8M415.8 482.1H419.8M415.8 439.9H423.8M415.8 397.6H419.8M415.8 355.3H423.8M415.8 313.1H419.8M926.1 331.2H922.6M926.1 391.6H918.6M926.1 452.0H922.6M926.1 512.3H918.6M926.1 572.7H922.6M926.1 633.1H918.6" stroke="#000" stroke-width="2" fill="none"/>
<text transform="translate(511.48,728.60)" font-family="Liberation Serif, Times New Roman, serif" font-size="34" text-anchor="middle">200</text>
<text transform="translate(639.06,728.60)" font-family="Liberation Serif, Times New Roman, serif" font-size="34" text-anchor="middle">400</text>
<text transform="translate(766.63,728.60)" font-family="Liberation Serif, Times New Roman, serif" font-size="34" text-anchor="middle">600</text>
<text transform="translate(894.21,728.60)" font-family="Liberation Serif, Times New Roman, serif" font-size="34" text-anchor="middle">800</text>
<text transform="translate(407.00,281.60)" font-family="Liberation Serif, Times New Roman, serif" font-size="34" text-anchor="end">100</text>
<text transform="translate(407.00,366.14)" font-family="Liberation Serif, Times New Roman, serif" font-size="34" text-anchor="end">80</text>
<text transform="translate(407.00,450.68)" font-family="Liberation Serif, Times New Roman, serif" font-size="34" text-anchor="end">60</text>
<text transform="translate(407.00,535.22)" font-family="Liberation Serif, Times New Roman, serif" font-size="34" text-anchor="end">40</text>
<text transform="translate(407.00,619.76)" font-family="Liberation Serif, Times New Roman, serif" font-size="34" text-anchor="end">20</text>
<text transform="translate(407.00,704.30)" font-family="Liberation Serif, Times New Roman, serif" font-size="34" text-anchor="end">0</text>
<text transform="translate(934.80,281.60)" font-family="Liberation Serif, Times New Roman, serif" font-size="34">0.000</text>
<text transform="translate(934.80,402.37)" font-family="Liberation Serif, Times New Roman, serif" font-size="34">-0.001</text>
<text transform="translate(934.80,523.14)" font-family="Liberation Serif, Times New Roman, serif" font-size="34">-0.002</text>
<text transform="translate(934.80,643.91)" font-family="Liberation Serif, Times New Roman, serif" font-size="34">-0.003</text>
<text transform="translate(517.80,782.40)" font-family="Liberation Serif, Times New Roman, serif" font-size="40" font-weight="bold" textLength="308" lengthAdjust="spacing">Temperature (<tspan font-size="24" dy="-15.5">o</tspan><tspan dy="15.5">C)</tspan></text>
<text transform="translate(336.80,563.30) rotate(-90)" font-family="Liberation Serif, Times New Roman, serif" font-size="40" font-weight="bold" textLength="202" lengthAdjust="spacing">Weight (%)</text>
<text transform="translate(1069.20,713.30) rotate(-90)" font-family="Liberation Serif, Times New Roman, serif" font-size="40" font-weight="bold" textLength="460.5" lengthAdjust="spacing">Derivative weight (%·<tspan font-size="24" dy="-15.5">o</tspan><tspan dy="15.5">C</tspan><tspan font-size="27" font-weight="normal" dy="-17">-1</tspan><tspan dy="17">)</tspan></text>
<path d="M444 638H522.2" stroke="#000" stroke-width="3.8"/>
<text transform="translate(530.20,649.30)" font-family="Liberation Serif, Times New Roman, serif" font-size="35">g-C<tspan font-size="23" dy="9">3</tspan><tspan dy="-9">N</tspan><tspan font-size="23" dy="9">4</tspan></text>
</svg>
</body></html>
